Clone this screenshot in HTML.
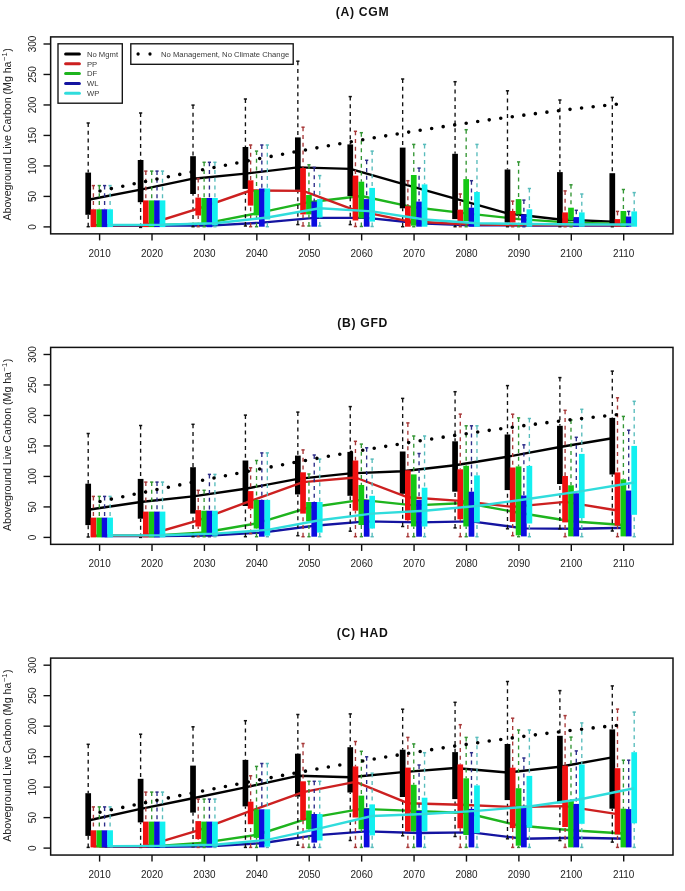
<!DOCTYPE html>
<html><head><meta charset="utf-8"><style>
html,body{margin:0;padding:0;background:#fff;}
svg{display:block;}
text{font-family:"Liberation Sans", sans-serif;filter:grayscale(1);}
</style></head><body>
<svg width="685" height="891" viewBox="0 0 685 891">
<rect x="0" y="0" width="685" height="891" fill="#fff"/>

<g transform="translate(0,0)">
<text x="362.6" y="16.1" font-size="12.2" font-weight="bold" letter-spacing="0.7" text-anchor="middle" fill="#111">(A) CGM</text>
<text transform="translate(11.1,134.4) rotate(-90)" font-size="10.6" text-anchor="middle" fill="#222">Aboveground Live Carbon (Mg ha<tspan font-size="7.6" dy="-4.6" dx="0.6">−1</tspan><tspan dy="4.6" dx="0.4">)</tspan></text>
<line x1="43.5" y1="226.9" x2="50.65" y2="226.9" stroke="#111" stroke-width="1.4"/>
<text transform="translate(36.4,226.9) rotate(-90)" font-size="10" text-anchor="middle" fill="#222">0</text>
<line x1="43.5" y1="196.42" x2="50.65" y2="196.42" stroke="#111" stroke-width="1.4"/>
<text transform="translate(36.4,196.42) rotate(-90)" font-size="10" text-anchor="middle" fill="#222">50</text>
<line x1="43.5" y1="165.93" x2="50.65" y2="165.93" stroke="#111" stroke-width="1.4"/>
<text transform="translate(36.4,165.93) rotate(-90)" font-size="10" text-anchor="middle" fill="#222">100</text>
<line x1="43.5" y1="135.44" x2="50.65" y2="135.44" stroke="#111" stroke-width="1.4"/>
<text transform="translate(36.4,135.44) rotate(-90)" font-size="10" text-anchor="middle" fill="#222">150</text>
<line x1="43.5" y1="104.96" x2="50.65" y2="104.96" stroke="#111" stroke-width="1.4"/>
<text transform="translate(36.4,104.96) rotate(-90)" font-size="10" text-anchor="middle" fill="#222">200</text>
<line x1="43.5" y1="74.47" x2="50.65" y2="74.47" stroke="#111" stroke-width="1.4"/>
<text transform="translate(36.4,74.47) rotate(-90)" font-size="10" text-anchor="middle" fill="#222">250</text>
<line x1="43.5" y1="43.99" x2="50.65" y2="43.99" stroke="#111" stroke-width="1.4"/>
<text transform="translate(36.4,43.99) rotate(-90)" font-size="10" text-anchor="middle" fill="#222">300</text>
<line x1="99.6" y1="233.85" x2="99.6" y2="240.4" stroke="#111" stroke-width="1.4"/>
<text transform="translate(99.6,256.5) scale(0.94,1)" font-size="10.6" text-anchor="middle" fill="#222">2010</text>
<line x1="152.01" y1="233.85" x2="152.01" y2="240.4" stroke="#111" stroke-width="1.4"/>
<text transform="translate(152.01,256.5) scale(0.94,1)" font-size="10.6" text-anchor="middle" fill="#222">2020</text>
<line x1="204.42" y1="233.85" x2="204.42" y2="240.4" stroke="#111" stroke-width="1.4"/>
<text transform="translate(204.42,256.5) scale(0.94,1)" font-size="10.6" text-anchor="middle" fill="#222">2030</text>
<line x1="256.83" y1="233.85" x2="256.83" y2="240.4" stroke="#111" stroke-width="1.4"/>
<text transform="translate(256.83,256.5) scale(0.94,1)" font-size="10.6" text-anchor="middle" fill="#222">2040</text>
<line x1="309.24" y1="233.85" x2="309.24" y2="240.4" stroke="#111" stroke-width="1.4"/>
<text transform="translate(309.24,256.5) scale(0.94,1)" font-size="10.6" text-anchor="middle" fill="#222">2050</text>
<line x1="361.65" y1="233.85" x2="361.65" y2="240.4" stroke="#111" stroke-width="1.4"/>
<text transform="translate(361.65,256.5) scale(0.94,1)" font-size="10.6" text-anchor="middle" fill="#222">2060</text>
<line x1="414.06" y1="233.85" x2="414.06" y2="240.4" stroke="#111" stroke-width="1.4"/>
<text transform="translate(414.06,256.5) scale(0.94,1)" font-size="10.6" text-anchor="middle" fill="#222">2070</text>
<line x1="466.47" y1="233.85" x2="466.47" y2="240.4" stroke="#111" stroke-width="1.4"/>
<text transform="translate(466.47,256.5) scale(0.94,1)" font-size="10.6" text-anchor="middle" fill="#222">2080</text>
<line x1="518.88" y1="233.85" x2="518.88" y2="240.4" stroke="#111" stroke-width="1.4"/>
<text transform="translate(518.88,256.5) scale(0.94,1)" font-size="10.6" text-anchor="middle" fill="#222">2090</text>
<line x1="571.29" y1="233.85" x2="571.29" y2="240.4" stroke="#111" stroke-width="1.4"/>
<text transform="translate(571.29,256.5) scale(0.94,1)" font-size="10.6" text-anchor="middle" fill="#222">2100</text>
<line x1="623.7" y1="233.85" x2="623.7" y2="240.4" stroke="#111" stroke-width="1.4"/>
<text transform="translate(623.7,256.5) scale(0.94,1)" font-size="10.6" text-anchor="middle" fill="#222">2110</text>
<polyline points="88.2,199.8 140.61,189.6 193.02,178.7 245.43,173.6 297.84,167.4 350.25,168.9 402.66,183.8 455.07,198.7 507.48,213.4 559.89,219.5 612.3,221.6" stroke="#000000" stroke-width="2.4" fill="none" stroke-linejoin="round"/>
<polyline points="99.3,225.3 151.71,225.2 204.12,223.6 256.53,213.4 308.94,202.2 361.35,196 413.76,207.3 466.17,213.4 518.58,219.1 570.99,222.6 623.4,224" stroke="#1eb41e" stroke-width="2.4" fill="none" stroke-linejoin="round"/>
<polyline points="104.6,225.6 157.01,225.6 209.42,225.6 261.83,222.6 314.24,217.9 366.65,217.9 419.06,223.2 471.47,225.2 523.88,225.5 576.29,225.5 628.7,225.5" stroke="#1414a0" stroke-width="2.4" fill="none" stroke-linejoin="round"/>
<path d="M88.2,123V172.6" stroke="#111111" stroke-width="1.35" stroke-dasharray="4 3.75" fill="none"/>
<path d="M86.6,123H89.8" stroke="#111111" stroke-width="1.5"/>
<path d="M88.2,226.7V214.8" stroke="#111111" stroke-width="1.35" stroke-dasharray="4 3.75" fill="none"/>
<path d="M86.6,226.7H89.8" stroke="#111111" stroke-width="1.5"/>
<rect x="85.35" y="172.6" width="5.7" height="42.2" fill="#000000"/>
<path d="M140.61,113V160" stroke="#111111" stroke-width="1.35" stroke-dasharray="4 3.75" fill="none"/>
<path d="M139.01,113H142.21" stroke="#111111" stroke-width="1.5"/>
<path d="M140.61,227.4V202.2" stroke="#111111" stroke-width="1.35" stroke-dasharray="4 3.75" fill="none"/>
<path d="M139.01,227.4H142.21" stroke="#111111" stroke-width="1.5"/>
<rect x="137.76" y="160" width="5.7" height="42.2" fill="#000000"/>
<path d="M193.02,105.1V156.2" stroke="#111111" stroke-width="1.35" stroke-dasharray="4 3.75" fill="none"/>
<path d="M191.42,105.1H194.62" stroke="#111111" stroke-width="1.5"/>
<path d="M193.02,226.7V194" stroke="#111111" stroke-width="1.35" stroke-dasharray="4 3.75" fill="none"/>
<path d="M191.42,226.7H194.62" stroke="#111111" stroke-width="1.5"/>
<rect x="190.17" y="156.2" width="5.7" height="37.8" fill="#000000"/>
<path d="M245.43,99V147" stroke="#111111" stroke-width="1.35" stroke-dasharray="4 3.75" fill="none"/>
<path d="M243.83,99H247.03" stroke="#111111" stroke-width="1.5"/>
<path d="M245.43,226V188.9" stroke="#111111" stroke-width="1.35" stroke-dasharray="4 3.75" fill="none"/>
<path d="M243.83,226H247.03" stroke="#111111" stroke-width="1.5"/>
<rect x="242.58" y="147" width="5.7" height="41.9" fill="#000000"/>
<path d="M297.84,61.2V137.4" stroke="#111111" stroke-width="1.35" stroke-dasharray="4 3.75" fill="none"/>
<path d="M296.24,61.2H299.44" stroke="#111111" stroke-width="1.5"/>
<path d="M297.84,224.6V189.9" stroke="#111111" stroke-width="1.35" stroke-dasharray="4 3.75" fill="none"/>
<path d="M296.24,224.6H299.44" stroke="#111111" stroke-width="1.5"/>
<rect x="294.99" y="137.4" width="5.7" height="52.5" fill="#000000"/>
<path d="M350.25,96.6V144.4" stroke="#111111" stroke-width="1.35" stroke-dasharray="4 3.75" fill="none"/>
<path d="M348.65,96.6H351.85" stroke="#111111" stroke-width="1.5"/>
<path d="M350.25,224.6V196" stroke="#111111" stroke-width="1.35" stroke-dasharray="4 3.75" fill="none"/>
<path d="M348.65,224.6H351.85" stroke="#111111" stroke-width="1.5"/>
<rect x="347.4" y="144.4" width="5.7" height="51.6" fill="#000000"/>
<path d="M402.66,79V147.6" stroke="#111111" stroke-width="1.35" stroke-dasharray="4 3.75" fill="none"/>
<path d="M401.06,79H404.26" stroke="#111111" stroke-width="1.5"/>
<path d="M402.66,226.7V208.3" stroke="#111111" stroke-width="1.35" stroke-dasharray="4 3.75" fill="none"/>
<path d="M401.06,226.7H404.26" stroke="#111111" stroke-width="1.5"/>
<rect x="399.81" y="147.6" width="5.7" height="60.7" fill="#000000"/>
<path d="M455.07,81.7V153.8" stroke="#111111" stroke-width="1.35" stroke-dasharray="4 3.75" fill="none"/>
<path d="M453.47,81.7H456.67" stroke="#111111" stroke-width="1.5"/>
<path d="M455.07,226.7V219.1" stroke="#111111" stroke-width="1.35" stroke-dasharray="4 3.75" fill="none"/>
<path d="M453.47,226.7H456.67" stroke="#111111" stroke-width="1.5"/>
<rect x="452.22" y="153.8" width="5.7" height="65.3" fill="#000000"/>
<path d="M507.48,90.8V169.5" stroke="#111111" stroke-width="1.35" stroke-dasharray="4 3.75" fill="none"/>
<path d="M505.88,90.8H509.08" stroke="#111111" stroke-width="1.5"/>
<path d="M507.48,226.7V222.6" stroke="#111111" stroke-width="1.35" stroke-dasharray="4 3.75" fill="none"/>
<path d="M505.88,226.7H509.08" stroke="#111111" stroke-width="1.5"/>
<rect x="504.63" y="169.5" width="5.7" height="53.1" fill="#000000"/>
<path d="M559.89,100V172.1" stroke="#111111" stroke-width="1.35" stroke-dasharray="4 3.75" fill="none"/>
<path d="M558.29,100H561.49" stroke="#111111" stroke-width="1.5"/>
<path d="M559.89,226.7V223.2" stroke="#111111" stroke-width="1.35" stroke-dasharray="4 3.75" fill="none"/>
<path d="M558.29,226.7H561.49" stroke="#111111" stroke-width="1.5"/>
<rect x="557.04" y="172.1" width="5.7" height="51.1" fill="#000000"/>
<path d="M612.3,97.4V173.2" stroke="#111111" stroke-width="1.35" stroke-dasharray="4 3.75" fill="none"/>
<path d="M610.7,97.4H613.9" stroke="#111111" stroke-width="1.5"/>
<path d="M612.3,226.7V224" stroke="#111111" stroke-width="1.35" stroke-dasharray="4 3.75" fill="none"/>
<path d="M610.7,226.7H613.9" stroke="#111111" stroke-width="1.5"/>
<rect x="609.45" y="173.2" width="5.7" height="50.8" fill="#000000"/>
<polyline points="93.4,225.2 145.81,225 198.22,208.6 250.63,190.5 303.04,190.9 355.45,210.3 407.86,221.2 460.27,224 512.68,225 565.09,225 617.5,225" stroke="#cc2020" stroke-width="2.4" fill="none" stroke-linejoin="round"/>
<path d="M93.4,185.6V209.3" stroke="#a83838" stroke-width="1.35" stroke-dasharray="4 3.75" fill="none"/>
<path d="M91.8,185.6H95" stroke="#a83838" stroke-width="1.5"/>
<rect x="90.55" y="209.3" width="5.7" height="17.8" fill="#f01010"/>
<path d="M145.81,171.1V200.4" stroke="#a83838" stroke-width="1.35" stroke-dasharray="4 3.75" fill="none"/>
<path d="M144.21,171.1H147.41" stroke="#a83838" stroke-width="1.5"/>
<rect x="142.96" y="200.4" width="5.7" height="26.7" fill="#f01010"/>
<path d="M198.22,178.5V197.6" stroke="#a83838" stroke-width="1.35" stroke-dasharray="4 3.75" fill="none"/>
<path d="M196.62,178.5H199.82" stroke="#a83838" stroke-width="1.5"/>
<path d="M198.22,226.7V215.5" stroke="#a83838" stroke-width="1.35" stroke-dasharray="4 3.75" fill="none"/>
<path d="M196.62,226.7H199.82" stroke="#a83838" stroke-width="1.5"/>
<rect x="195.37" y="197.6" width="5.7" height="17.9" fill="#f01010"/>
<path d="M250.63,145V180.3" stroke="#a83838" stroke-width="1.35" stroke-dasharray="4 3.75" fill="none"/>
<path d="M249.03,145H252.23" stroke="#a83838" stroke-width="1.5"/>
<path d="M250.63,226.7V205.6" stroke="#a83838" stroke-width="1.35" stroke-dasharray="4 3.75" fill="none"/>
<path d="M249.03,226.7H252.23" stroke="#a83838" stroke-width="1.5"/>
<rect x="247.78" y="180.3" width="5.7" height="25.3" fill="#f01010"/>
<path d="M303.04,127.2V168.1" stroke="#a83838" stroke-width="1.35" stroke-dasharray="4 3.75" fill="none"/>
<path d="M301.44,127.2H304.64" stroke="#a83838" stroke-width="1.5"/>
<path d="M303.04,226V214.4" stroke="#a83838" stroke-width="1.35" stroke-dasharray="4 3.75" fill="none"/>
<path d="M301.44,226H304.64" stroke="#a83838" stroke-width="1.5"/>
<rect x="300.19" y="168.1" width="5.7" height="46.3" fill="#f01010"/>
<path d="M355.45,131.3V175.6" stroke="#a83838" stroke-width="1.35" stroke-dasharray="4 3.75" fill="none"/>
<path d="M353.85,131.3H357.05" stroke="#a83838" stroke-width="1.5"/>
<path d="M355.45,226.5V220.5" stroke="#a83838" stroke-width="1.35" stroke-dasharray="4 3.75" fill="none"/>
<path d="M353.85,226.5H357.05" stroke="#a83838" stroke-width="1.5"/>
<rect x="352.6" y="175.6" width="5.7" height="44.9" fill="#f01010"/>
<path d="M407.86,180.7V206.2" stroke="#a83838" stroke-width="1.35" stroke-dasharray="4 3.75" fill="none"/>
<path d="M406.26,180.7H409.46" stroke="#a83838" stroke-width="1.5"/>
<rect x="405.01" y="206.2" width="5.7" height="20.5" fill="#f01010"/>
<path d="M460.27,194V209.7" stroke="#a83838" stroke-width="1.35" stroke-dasharray="4 3.75" fill="none"/>
<path d="M458.67,194H461.87" stroke="#a83838" stroke-width="1.5"/>
<path d="M460.27,226.7V221.2" stroke="#a83838" stroke-width="1.35" stroke-dasharray="4 3.75" fill="none"/>
<path d="M458.67,226.7H461.87" stroke="#a83838" stroke-width="1.5"/>
<rect x="457.42" y="209.7" width="5.7" height="11.5" fill="#f01010"/>
<path d="M512.68,201.1V211" stroke="#a83838" stroke-width="1.35" stroke-dasharray="4 3.75" fill="none"/>
<path d="M511.08,201.1H514.28" stroke="#a83838" stroke-width="1.5"/>
<path d="M512.68,226.7V222.6" stroke="#a83838" stroke-width="1.35" stroke-dasharray="4 3.75" fill="none"/>
<path d="M511.08,226.7H514.28" stroke="#a83838" stroke-width="1.5"/>
<rect x="509.83" y="211" width="5.7" height="11.6" fill="#f01010"/>
<path d="M565.09,190.9V212.4" stroke="#a83838" stroke-width="1.35" stroke-dasharray="4 3.75" fill="none"/>
<path d="M563.49,190.9H566.69" stroke="#a83838" stroke-width="1.5"/>
<path d="M565.09,226.7V223.2" stroke="#a83838" stroke-width="1.35" stroke-dasharray="4 3.75" fill="none"/>
<path d="M563.49,226.7H566.69" stroke="#a83838" stroke-width="1.5"/>
<rect x="562.24" y="212.4" width="5.7" height="10.8" fill="#f01010"/>
<path d="M617.5,211.4V219.1" stroke="#a83838" stroke-width="1.35" stroke-dasharray="4 3.75" fill="none"/>
<path d="M615.9,211.4H619.1" stroke="#a83838" stroke-width="1.5"/>
<rect x="614.65" y="219.1" width="5.7" height="7.6" fill="#f01010"/>
<path d="M99.3,185.6V209.3" stroke="#349634" stroke-width="1.35" stroke-dasharray="4 3.75" fill="none"/>
<path d="M97.7,185.6H100.9" stroke="#349634" stroke-width="1.5"/>
<rect x="96.45" y="209.3" width="5.7" height="17.8" fill="#14c814"/>
<path d="M151.71,171.1V200.4" stroke="#349634" stroke-width="1.35" stroke-dasharray="4 3.75" fill="none"/>
<path d="M150.11,171.1H153.31" stroke="#349634" stroke-width="1.5"/>
<rect x="148.86" y="200.4" width="5.7" height="26.7" fill="#14c814"/>
<path d="M204.12,162.3V198" stroke="#349634" stroke-width="1.35" stroke-dasharray="4 3.75" fill="none"/>
<path d="M202.52,162.3H205.72" stroke="#349634" stroke-width="1.5"/>
<path d="M204.12,226.7V224.8" stroke="#349634" stroke-width="1.35" stroke-dasharray="4 3.75" fill="none"/>
<path d="M202.52,226.7H205.72" stroke="#349634" stroke-width="1.5"/>
<rect x="201.27" y="198" width="5.7" height="26.8" fill="#14c814"/>
<path d="M256.53,151.1V189.9" stroke="#349634" stroke-width="1.35" stroke-dasharray="4 3.75" fill="none"/>
<path d="M254.93,151.1H258.13" stroke="#349634" stroke-width="1.5"/>
<path d="M256.53,226.7V215.4" stroke="#349634" stroke-width="1.35" stroke-dasharray="4 3.75" fill="none"/>
<path d="M254.93,226.7H258.13" stroke="#349634" stroke-width="1.5"/>
<rect x="253.68" y="189.9" width="5.7" height="25.5" fill="#14c814"/>
<path d="M308.94,164.8V195" stroke="#349634" stroke-width="1.35" stroke-dasharray="4 3.75" fill="none"/>
<path d="M307.34,164.8H310.54" stroke="#349634" stroke-width="1.5"/>
<path d="M308.94,226V214.4" stroke="#349634" stroke-width="1.35" stroke-dasharray="4 3.75" fill="none"/>
<path d="M307.34,226H310.54" stroke="#349634" stroke-width="1.5"/>
<rect x="306.09" y="195" width="5.7" height="19.4" fill="#14c814"/>
<path d="M361.35,132.7V181.7" stroke="#349634" stroke-width="1.35" stroke-dasharray="4 3.75" fill="none"/>
<path d="M359.75,132.7H362.95" stroke="#349634" stroke-width="1.5"/>
<path d="M361.35,226.5V218.5" stroke="#349634" stroke-width="1.35" stroke-dasharray="4 3.75" fill="none"/>
<path d="M359.75,226.5H362.95" stroke="#349634" stroke-width="1.5"/>
<rect x="358.5" y="181.7" width="5.7" height="36.8" fill="#14c814"/>
<path d="M413.76,144.4V175" stroke="#349634" stroke-width="1.35" stroke-dasharray="4 3.75" fill="none"/>
<path d="M412.16,144.4H415.36" stroke="#349634" stroke-width="1.5"/>
<path d="M413.76,226.7V225.7" stroke="#349634" stroke-width="1.35" stroke-dasharray="4 3.75" fill="none"/>
<path d="M412.16,226.7H415.36" stroke="#349634" stroke-width="1.5"/>
<rect x="410.91" y="175" width="5.7" height="50.7" fill="#14c814"/>
<path d="M466.17,129.7V179.1" stroke="#349634" stroke-width="1.35" stroke-dasharray="4 3.75" fill="none"/>
<path d="M464.57,129.7H467.77" stroke="#349634" stroke-width="1.5"/>
<path d="M466.17,226.7V221.2" stroke="#349634" stroke-width="1.35" stroke-dasharray="4 3.75" fill="none"/>
<path d="M464.57,226.7H467.77" stroke="#349634" stroke-width="1.5"/>
<rect x="463.32" y="179.1" width="5.7" height="42.1" fill="#14c814"/>
<path d="M518.58,161.9V199.1" stroke="#349634" stroke-width="1.35" stroke-dasharray="4 3.75" fill="none"/>
<path d="M516.98,161.9H520.18" stroke="#349634" stroke-width="1.5"/>
<path d="M518.58,226.7V214.4" stroke="#349634" stroke-width="1.35" stroke-dasharray="4 3.75" fill="none"/>
<path d="M516.98,226.7H520.18" stroke="#349634" stroke-width="1.5"/>
<rect x="515.73" y="199.1" width="5.7" height="15.3" fill="#14c814"/>
<path d="M570.99,184.8V207.7" stroke="#349634" stroke-width="1.35" stroke-dasharray="4 3.75" fill="none"/>
<path d="M569.39,184.8H572.59" stroke="#349634" stroke-width="1.5"/>
<path d="M570.99,226.7V220.5" stroke="#349634" stroke-width="1.35" stroke-dasharray="4 3.75" fill="none"/>
<path d="M569.39,226.7H572.59" stroke="#349634" stroke-width="1.5"/>
<rect x="568.14" y="207.7" width="5.7" height="12.8" fill="#14c814"/>
<path d="M623.4,189.5V211" stroke="#349634" stroke-width="1.35" stroke-dasharray="4 3.75" fill="none"/>
<path d="M621.8,189.5H625" stroke="#349634" stroke-width="1.5"/>
<rect x="620.55" y="211" width="5.7" height="15.7" fill="#14c814"/>
<path d="M104.6,185.6V209.3" stroke="#2c2c88" stroke-width="1.35" stroke-dasharray="4 3.75" fill="none"/>
<path d="M103,185.6H106.2" stroke="#2c2c88" stroke-width="1.5"/>
<rect x="101.75" y="209.3" width="5.7" height="17.8" fill="#0c0ce0"/>
<path d="M157.01,171.1V200.4" stroke="#2c2c88" stroke-width="1.35" stroke-dasharray="4 3.75" fill="none"/>
<path d="M155.41,171.1H158.61" stroke="#2c2c88" stroke-width="1.5"/>
<rect x="154.16" y="200.4" width="5.7" height="26.7" fill="#0c0ce0"/>
<path d="M209.42,162.3V198" stroke="#2c2c88" stroke-width="1.35" stroke-dasharray="4 3.75" fill="none"/>
<path d="M207.82,162.3H211.02" stroke="#2c2c88" stroke-width="1.5"/>
<rect x="206.57" y="198" width="5.7" height="29.2" fill="#0c0ce0"/>
<path d="M261.83,145V188.5" stroke="#2c2c88" stroke-width="1.35" stroke-dasharray="4 3.75" fill="none"/>
<path d="M260.23,145H263.43" stroke="#2c2c88" stroke-width="1.5"/>
<rect x="258.98" y="188.5" width="5.7" height="38.2" fill="#0c0ce0"/>
<path d="M314.24,167.4V201.6" stroke="#2c2c88" stroke-width="1.35" stroke-dasharray="4 3.75" fill="none"/>
<path d="M312.64,167.4H315.84" stroke="#2c2c88" stroke-width="1.5"/>
<rect x="311.39" y="201.6" width="5.7" height="25.1" fill="#0c0ce0"/>
<path d="M366.65,160.3V199.1" stroke="#2c2c88" stroke-width="1.35" stroke-dasharray="4 3.75" fill="none"/>
<path d="M365.05,160.3H368.25" stroke="#2c2c88" stroke-width="1.5"/>
<rect x="363.8" y="199.1" width="5.7" height="27.6" fill="#0c0ce0"/>
<path d="M419.06,168.1V201.6" stroke="#2c2c88" stroke-width="1.35" stroke-dasharray="4 3.75" fill="none"/>
<path d="M417.46,168.1H420.66" stroke="#2c2c88" stroke-width="1.5"/>
<rect x="416.21" y="201.6" width="5.7" height="25.1" fill="#0c0ce0"/>
<path d="M471.47,180.7V207.7" stroke="#2c2c88" stroke-width="1.35" stroke-dasharray="4 3.75" fill="none"/>
<path d="M469.87,180.7H473.07" stroke="#2c2c88" stroke-width="1.5"/>
<rect x="468.62" y="207.7" width="5.7" height="19" fill="#0c0ce0"/>
<path d="M523.88,200.1V214.4" stroke="#2c2c88" stroke-width="1.35" stroke-dasharray="4 3.75" fill="none"/>
<path d="M522.28,200.1H525.48" stroke="#2c2c88" stroke-width="1.5"/>
<path d="M523.88,226.7V223.2" stroke="#2c2c88" stroke-width="1.35" stroke-dasharray="4 3.75" fill="none"/>
<path d="M522.28,226.7H525.48" stroke="#2c2c88" stroke-width="1.5"/>
<rect x="521.03" y="214.4" width="5.7" height="8.8" fill="#0c0ce0"/>
<path d="M576.29,210.3V217.1" stroke="#2c2c88" stroke-width="1.35" stroke-dasharray="4 3.75" fill="none"/>
<path d="M574.69,210.3H577.89" stroke="#2c2c88" stroke-width="1.5"/>
<rect x="573.44" y="217.1" width="5.7" height="9.6" fill="#0c0ce0"/>
<path d="M628.7,211.4V216.5" stroke="#2c2c88" stroke-width="1.35" stroke-dasharray="4 3.75" fill="none"/>
<path d="M627.1,211.4H630.3" stroke="#2c2c88" stroke-width="1.5"/>
<rect x="625.85" y="216.5" width="5.7" height="10.2" fill="#0c0ce0"/>
<path d="M110.1,185.6V209.3" stroke="#58bcbc" stroke-width="1.35" stroke-dasharray="4 3.75" fill="none"/>
<path d="M108.5,185.6H111.7" stroke="#58bcbc" stroke-width="1.5"/>
<rect x="107.25" y="209.3" width="5.7" height="17.8" fill="#12f0f0"/>
<path d="M162.51,171.1V200.4" stroke="#58bcbc" stroke-width="1.35" stroke-dasharray="4 3.75" fill="none"/>
<path d="M160.91,171.1H164.11" stroke="#58bcbc" stroke-width="1.5"/>
<rect x="159.66" y="200.4" width="5.7" height="26.7" fill="#12f0f0"/>
<path d="M214.92,162.3V198" stroke="#58bcbc" stroke-width="1.35" stroke-dasharray="4 3.75" fill="none"/>
<path d="M213.32,162.3H216.52" stroke="#58bcbc" stroke-width="1.5"/>
<path d="M214.92,226.7V225.4" stroke="#58bcbc" stroke-width="1.35" stroke-dasharray="4 3.75" fill="none"/>
<path d="M213.32,226.7H216.52" stroke="#58bcbc" stroke-width="1.5"/>
<rect x="212.07" y="198" width="5.7" height="27.4" fill="#12f0f0"/>
<path d="M267.33,145V188.5" stroke="#58bcbc" stroke-width="1.35" stroke-dasharray="4 3.75" fill="none"/>
<path d="M265.73,145H268.93" stroke="#58bcbc" stroke-width="1.5"/>
<path d="M267.33,226.7V219.5" stroke="#58bcbc" stroke-width="1.35" stroke-dasharray="4 3.75" fill="none"/>
<path d="M265.73,226.7H268.93" stroke="#58bcbc" stroke-width="1.5"/>
<rect x="264.48" y="188.5" width="5.7" height="31" fill="#12f0f0"/>
<path d="M319.74,175.6V199.1" stroke="#58bcbc" stroke-width="1.35" stroke-dasharray="4 3.75" fill="none"/>
<path d="M318.14,175.6H321.34" stroke="#58bcbc" stroke-width="1.5"/>
<path d="M319.74,226V217.5" stroke="#58bcbc" stroke-width="1.35" stroke-dasharray="4 3.75" fill="none"/>
<path d="M318.14,226H321.34" stroke="#58bcbc" stroke-width="1.5"/>
<rect x="316.89" y="199.1" width="5.7" height="18.4" fill="#12f0f0"/>
<path d="M372.15,151.1V187.9" stroke="#58bcbc" stroke-width="1.35" stroke-dasharray="4 3.75" fill="none"/>
<path d="M370.55,151.1H373.75" stroke="#58bcbc" stroke-width="1.5"/>
<path d="M372.15,226.5V221.6" stroke="#58bcbc" stroke-width="1.35" stroke-dasharray="4 3.75" fill="none"/>
<path d="M370.55,226.5H373.75" stroke="#58bcbc" stroke-width="1.5"/>
<rect x="369.3" y="187.9" width="5.7" height="33.7" fill="#12f0f0"/>
<path d="M424.56,144.4V184.4" stroke="#58bcbc" stroke-width="1.35" stroke-dasharray="4 3.75" fill="none"/>
<path d="M422.96,144.4H426.16" stroke="#58bcbc" stroke-width="1.5"/>
<rect x="421.71" y="184.4" width="5.7" height="42.3" fill="#12f0f0"/>
<path d="M476.97,144.4V192" stroke="#58bcbc" stroke-width="1.35" stroke-dasharray="4 3.75" fill="none"/>
<path d="M475.37,144.4H478.57" stroke="#58bcbc" stroke-width="1.5"/>
<rect x="474.12" y="192" width="5.7" height="34.7" fill="#12f0f0"/>
<path d="M529.38,188.5V209.3" stroke="#58bcbc" stroke-width="1.35" stroke-dasharray="4 3.75" fill="none"/>
<path d="M527.78,188.5H530.98" stroke="#58bcbc" stroke-width="1.5"/>
<rect x="526.53" y="209.3" width="5.7" height="17.4" fill="#12f0f0"/>
<path d="M581.79,194V212.4" stroke="#58bcbc" stroke-width="1.35" stroke-dasharray="4 3.75" fill="none"/>
<path d="M580.19,194H583.39" stroke="#58bcbc" stroke-width="1.5"/>
<rect x="578.94" y="212.4" width="5.7" height="14.3" fill="#12f0f0"/>
<path d="M634.2,192.6V211.4" stroke="#58bcbc" stroke-width="1.35" stroke-dasharray="4 3.75" fill="none"/>
<path d="M632.6,192.6H635.8" stroke="#58bcbc" stroke-width="1.5"/>
<rect x="631.35" y="211.4" width="5.7" height="15.3" fill="#12f0f0"/>
<polyline points="110.1,224.9 162.51,224.7 214.92,223.2 267.33,217.5 319.74,208.3 372.15,211.4 424.56,219.5 476.97,223.2 529.38,224 581.79,224.5 634.2,224.5" stroke="#30dcdc" stroke-width="2.4" fill="none" stroke-linejoin="round"/>
<path d="M100.00,191.03 L106.63,189.62 L113.26,188.21 L119.89,186.81 L126.52,185.42 L133.15,184.02 L139.77,182.64 L146.40,181.26 L153.03,179.88 L159.66,178.51 L166.29,177.14 L172.92,175.78 L179.55,174.43 L186.18,173.08 L192.81,171.74 L199.44,170.40 L206.07,169.07 L212.69,167.75 L219.32,166.43 L225.95,165.12 L232.58,163.82 L239.21,162.52 L245.84,161.23 L252.47,159.94 L259.10,158.67 L265.73,157.40 L272.36,156.14 L278.99,154.89 L285.62,153.64 L292.24,152.40 L298.87,151.17 L305.50,149.95 L312.13,148.74 L318.76,147.53 L325.39,146.34 L332.02,145.15 L338.65,143.97 L345.28,142.80 L351.91,141.64 L358.54,140.49 L365.16,139.35 L371.79,138.21 L378.42,137.09 L385.05,135.98 L391.68,134.87 L398.31,133.78 L404.94,132.70 L411.57,131.62 L418.20,130.56 L424.83,129.51 L431.46,128.47 L438.08,127.44 L444.71,126.42 L451.34,125.41 L457.97,124.41 L464.60,123.42 L471.23,122.45 L477.86,121.48 L484.49,120.53 L491.12,119.59 L497.75,118.66 L504.38,117.75 L511.01,116.85 L517.63,115.95 L524.26,115.08 L530.89,114.21 L537.52,113.36 L544.15,112.52 L550.78,111.69 L557.41,110.87 L564.04,110.07 L570.67,109.28 L577.30,108.51 L583.93,107.75 L590.55,107.00 L597.18,106.27 L603.81,105.55 L610.44,104.85 L617.07,104.16 L623.70,103.48" stroke="#000" stroke-width="3.6" stroke-dasharray="0 11.64" stroke-linecap="round" fill="none"/>
<rect x="50.65" y="36.9" width="622.35" height="196.95" fill="none" stroke="#111" stroke-width="1.5"/>
<rect x="58" y="43.8" width="64.3" height="59.4" fill="#fff" stroke="#111" stroke-width="1.35"/>
<line x1="65.6" y1="54.1" x2="79.4" y2="54.1" stroke="#000000" stroke-width="3" stroke-linecap="round"/>
<text x="86.9" y="56.9" font-size="7.7" fill="#3a3a3a">No Mgmt</text>
<line x1="65.6" y1="63.8" x2="79.4" y2="63.8" stroke="#cc2020" stroke-width="3" stroke-linecap="round"/>
<text x="86.9" y="66.6" font-size="7.7" fill="#3a3a3a">PP</text>
<line x1="65.6" y1="73.6" x2="79.4" y2="73.6" stroke="#1eb41e" stroke-width="3" stroke-linecap="round"/>
<text x="86.9" y="76.4" font-size="7.7" fill="#3a3a3a">DF</text>
<line x1="65.6" y1="83.4" x2="79.4" y2="83.4" stroke="#1414a0" stroke-width="3" stroke-linecap="round"/>
<text x="86.9" y="86.2" font-size="7.7" fill="#3a3a3a">WL</text>
<line x1="65.6" y1="93.2" x2="79.4" y2="93.2" stroke="#30dcdc" stroke-width="3" stroke-linecap="round"/>
<text x="86.9" y="96" font-size="7.7" fill="#3a3a3a">WP</text>
<rect x="130.8" y="43.8" width="162.4" height="20.5" fill="#fff" stroke="#111" stroke-width="1.35"/>
<circle cx="138.1" cy="54" r="1.65" fill="#000"/><circle cx="150" cy="54" r="1.65" fill="#000"/>
<text x="161" y="56.8" font-size="7.7" fill="#3a3a3a">No Management, No Climate Change</text>
</g>
<g transform="translate(0,310.5)">
<text x="362.6" y="16.1" font-size="12.2" font-weight="bold" letter-spacing="0.7" text-anchor="middle" fill="#111">(B) GFD</text>
<text transform="translate(11.1,134.4) rotate(-90)" font-size="10.6" text-anchor="middle" fill="#222">Aboveground Live Carbon (Mg ha<tspan font-size="7.6" dy="-4.6" dx="0.6">−1</tspan><tspan dy="4.6" dx="0.4">)</tspan></text>
<line x1="43.5" y1="226.9" x2="50.65" y2="226.9" stroke="#111" stroke-width="1.4"/>
<text transform="translate(36.4,226.9) rotate(-90)" font-size="10" text-anchor="middle" fill="#222">0</text>
<line x1="43.5" y1="196.42" x2="50.65" y2="196.42" stroke="#111" stroke-width="1.4"/>
<text transform="translate(36.4,196.42) rotate(-90)" font-size="10" text-anchor="middle" fill="#222">50</text>
<line x1="43.5" y1="165.93" x2="50.65" y2="165.93" stroke="#111" stroke-width="1.4"/>
<text transform="translate(36.4,165.93) rotate(-90)" font-size="10" text-anchor="middle" fill="#222">100</text>
<line x1="43.5" y1="135.44" x2="50.65" y2="135.44" stroke="#111" stroke-width="1.4"/>
<text transform="translate(36.4,135.44) rotate(-90)" font-size="10" text-anchor="middle" fill="#222">150</text>
<line x1="43.5" y1="104.96" x2="50.65" y2="104.96" stroke="#111" stroke-width="1.4"/>
<text transform="translate(36.4,104.96) rotate(-90)" font-size="10" text-anchor="middle" fill="#222">200</text>
<line x1="43.5" y1="74.47" x2="50.65" y2="74.47" stroke="#111" stroke-width="1.4"/>
<text transform="translate(36.4,74.47) rotate(-90)" font-size="10" text-anchor="middle" fill="#222">250</text>
<line x1="43.5" y1="43.99" x2="50.65" y2="43.99" stroke="#111" stroke-width="1.4"/>
<text transform="translate(36.4,43.99) rotate(-90)" font-size="10" text-anchor="middle" fill="#222">300</text>
<line x1="99.6" y1="233.85" x2="99.6" y2="240.4" stroke="#111" stroke-width="1.4"/>
<text transform="translate(99.6,256.5) scale(0.94,1)" font-size="10.6" text-anchor="middle" fill="#222">2010</text>
<line x1="152.01" y1="233.85" x2="152.01" y2="240.4" stroke="#111" stroke-width="1.4"/>
<text transform="translate(152.01,256.5) scale(0.94,1)" font-size="10.6" text-anchor="middle" fill="#222">2020</text>
<line x1="204.42" y1="233.85" x2="204.42" y2="240.4" stroke="#111" stroke-width="1.4"/>
<text transform="translate(204.42,256.5) scale(0.94,1)" font-size="10.6" text-anchor="middle" fill="#222">2030</text>
<line x1="256.83" y1="233.85" x2="256.83" y2="240.4" stroke="#111" stroke-width="1.4"/>
<text transform="translate(256.83,256.5) scale(0.94,1)" font-size="10.6" text-anchor="middle" fill="#222">2040</text>
<line x1="309.24" y1="233.85" x2="309.24" y2="240.4" stroke="#111" stroke-width="1.4"/>
<text transform="translate(309.24,256.5) scale(0.94,1)" font-size="10.6" text-anchor="middle" fill="#222">2050</text>
<line x1="361.65" y1="233.85" x2="361.65" y2="240.4" stroke="#111" stroke-width="1.4"/>
<text transform="translate(361.65,256.5) scale(0.94,1)" font-size="10.6" text-anchor="middle" fill="#222">2060</text>
<line x1="414.06" y1="233.85" x2="414.06" y2="240.4" stroke="#111" stroke-width="1.4"/>
<text transform="translate(414.06,256.5) scale(0.94,1)" font-size="10.6" text-anchor="middle" fill="#222">2070</text>
<line x1="466.47" y1="233.85" x2="466.47" y2="240.4" stroke="#111" stroke-width="1.4"/>
<text transform="translate(466.47,256.5) scale(0.94,1)" font-size="10.6" text-anchor="middle" fill="#222">2080</text>
<line x1="518.88" y1="233.85" x2="518.88" y2="240.4" stroke="#111" stroke-width="1.4"/>
<text transform="translate(518.88,256.5) scale(0.94,1)" font-size="10.6" text-anchor="middle" fill="#222">2090</text>
<line x1="571.29" y1="233.85" x2="571.29" y2="240.4" stroke="#111" stroke-width="1.4"/>
<text transform="translate(571.29,256.5) scale(0.94,1)" font-size="10.6" text-anchor="middle" fill="#222">2100</text>
<line x1="623.7" y1="233.85" x2="623.7" y2="240.4" stroke="#111" stroke-width="1.4"/>
<text transform="translate(623.7,256.5) scale(0.94,1)" font-size="10.6" text-anchor="middle" fill="#222">2110</text>
<polyline points="88.2,199.3 140.61,191.5 193.02,185.9 245.43,178.2 297.84,168.4 350.25,162.9 402.66,160.8 455.07,154.7 507.48,146.2 559.89,136.5 612.3,127.8" stroke="#000000" stroke-width="2.4" fill="none" stroke-linejoin="round"/>
<polyline points="99.3,225.3 151.71,225.2 204.12,222 256.53,212.9 308.94,197 361.35,189.4 413.76,194.9 466.17,192.5 518.58,202.2 570.99,210.8 623.4,214.5" stroke="#1eb41e" stroke-width="2.4" fill="none" stroke-linejoin="round"/>
<polyline points="104.6,225.6 157.01,225.6 209.42,225 261.83,222.1 314.24,215.3 366.65,210.9 419.06,211.9 471.47,210.9 523.88,217.9 576.29,218.3 628.7,217.3" stroke="#1414a0" stroke-width="2.4" fill="none" stroke-linejoin="round"/>
<path d="M88.2,123V173.2" stroke="#111111" stroke-width="1.35" stroke-dasharray="4 3.75" fill="none"/>
<path d="M86.6,123H89.8" stroke="#111111" stroke-width="1.5"/>
<path d="M88.2,226.5V214.6" stroke="#111111" stroke-width="1.35" stroke-dasharray="4 3.75" fill="none"/>
<path d="M86.6,226.5H89.8" stroke="#111111" stroke-width="1.5"/>
<rect x="85.35" y="173.2" width="5.7" height="41.4" fill="#000000"/>
<path d="M140.61,115V168.4" stroke="#111111" stroke-width="1.35" stroke-dasharray="4 3.75" fill="none"/>
<path d="M139.01,115H142.21" stroke="#111111" stroke-width="1.5"/>
<path d="M140.61,226.9V208.2" stroke="#111111" stroke-width="1.35" stroke-dasharray="4 3.75" fill="none"/>
<path d="M139.01,226.9H142.21" stroke="#111111" stroke-width="1.5"/>
<rect x="137.76" y="168.4" width="5.7" height="39.8" fill="#000000"/>
<path d="M193.02,113.8V156.7" stroke="#111111" stroke-width="1.35" stroke-dasharray="4 3.75" fill="none"/>
<path d="M191.42,113.8H194.62" stroke="#111111" stroke-width="1.5"/>
<path d="M193.02,226.2V203.1" stroke="#111111" stroke-width="1.35" stroke-dasharray="4 3.75" fill="none"/>
<path d="M191.42,226.2H194.62" stroke="#111111" stroke-width="1.5"/>
<rect x="190.17" y="156.7" width="5.7" height="46.4" fill="#000000"/>
<path d="M245.43,104.6V150" stroke="#111111" stroke-width="1.35" stroke-dasharray="4 3.75" fill="none"/>
<path d="M243.83,104.6H247.03" stroke="#111111" stroke-width="1.5"/>
<path d="M245.43,226.2V195.5" stroke="#111111" stroke-width="1.35" stroke-dasharray="4 3.75" fill="none"/>
<path d="M243.83,226.2H247.03" stroke="#111111" stroke-width="1.5"/>
<rect x="242.58" y="150" width="5.7" height="45.5" fill="#000000"/>
<path d="M297.84,101.6V145.1" stroke="#111111" stroke-width="1.35" stroke-dasharray="4 3.75" fill="none"/>
<path d="M296.24,101.6H299.44" stroke="#111111" stroke-width="1.5"/>
<path d="M297.84,225.2V183.9" stroke="#111111" stroke-width="1.35" stroke-dasharray="4 3.75" fill="none"/>
<path d="M296.24,225.2H299.44" stroke="#111111" stroke-width="1.5"/>
<rect x="294.99" y="145.1" width="5.7" height="38.8" fill="#000000"/>
<path d="M350.25,96.1V141.4" stroke="#111111" stroke-width="1.35" stroke-dasharray="4 3.75" fill="none"/>
<path d="M348.65,96.1H351.85" stroke="#111111" stroke-width="1.5"/>
<path d="M350.25,220.7V185.3" stroke="#111111" stroke-width="1.35" stroke-dasharray="4 3.75" fill="none"/>
<path d="M348.65,220.7H351.85" stroke="#111111" stroke-width="1.5"/>
<rect x="347.4" y="141.4" width="5.7" height="43.9" fill="#000000"/>
<path d="M402.66,87.9V141" stroke="#111111" stroke-width="1.35" stroke-dasharray="4 3.75" fill="none"/>
<path d="M401.06,87.9H404.26" stroke="#111111" stroke-width="1.5"/>
<path d="M402.66,216V183.3" stroke="#111111" stroke-width="1.35" stroke-dasharray="4 3.75" fill="none"/>
<path d="M401.06,216H404.26" stroke="#111111" stroke-width="1.5"/>
<rect x="399.81" y="141" width="5.7" height="42.3" fill="#000000"/>
<path d="M455.07,81.2V130.8" stroke="#111111" stroke-width="1.35" stroke-dasharray="4 3.75" fill="none"/>
<path d="M453.47,81.2H456.67" stroke="#111111" stroke-width="1.5"/>
<path d="M455.07,217.4V181.2" stroke="#111111" stroke-width="1.35" stroke-dasharray="4 3.75" fill="none"/>
<path d="M453.47,217.4H456.67" stroke="#111111" stroke-width="1.5"/>
<rect x="452.22" y="130.8" width="5.7" height="50.4" fill="#000000"/>
<path d="M507.48,75.1V124" stroke="#111111" stroke-width="1.35" stroke-dasharray="4 3.75" fill="none"/>
<path d="M505.88,75.1H509.08" stroke="#111111" stroke-width="1.5"/>
<path d="M507.48,218.3V179.6" stroke="#111111" stroke-width="1.35" stroke-dasharray="4 3.75" fill="none"/>
<path d="M505.88,218.3H509.08" stroke="#111111" stroke-width="1.5"/>
<rect x="504.63" y="124" width="5.7" height="55.6" fill="#000000"/>
<path d="M559.89,67.1V115.3" stroke="#111111" stroke-width="1.35" stroke-dasharray="4 3.75" fill="none"/>
<path d="M558.29,67.1H561.49" stroke="#111111" stroke-width="1.5"/>
<path d="M559.89,218.3V173.5" stroke="#111111" stroke-width="1.35" stroke-dasharray="4 3.75" fill="none"/>
<path d="M558.29,218.3H561.49" stroke="#111111" stroke-width="1.5"/>
<rect x="557.04" y="115.3" width="5.7" height="58.2" fill="#000000"/>
<path d="M612.3,60.6V107.4" stroke="#111111" stroke-width="1.35" stroke-dasharray="4 3.75" fill="none"/>
<path d="M610.7,60.6H613.9" stroke="#111111" stroke-width="1.5"/>
<path d="M612.3,220.5V164" stroke="#111111" stroke-width="1.35" stroke-dasharray="4 3.75" fill="none"/>
<path d="M610.7,220.5H613.9" stroke="#111111" stroke-width="1.5"/>
<rect x="609.45" y="107.4" width="5.7" height="56.6" fill="#000000"/>
<polyline points="93.4,225.2 145.81,225 198.22,209.8 250.63,190.4 303.04,171.6 355.45,167 407.86,186.8 460.27,190.4 512.68,196.4 565.09,191.4 617.5,200" stroke="#cc2020" stroke-width="2.4" fill="none" stroke-linejoin="round"/>
<path d="M93.4,185.9V207.1" stroke="#a83838" stroke-width="1.35" stroke-dasharray="4 3.75" fill="none"/>
<path d="M91.8,185.9H95" stroke="#a83838" stroke-width="1.5"/>
<rect x="90.55" y="207.1" width="5.7" height="19.8" fill="#f01010"/>
<path d="M145.81,171.6V201.1" stroke="#a83838" stroke-width="1.35" stroke-dasharray="4 3.75" fill="none"/>
<path d="M144.21,171.6H147.41" stroke="#a83838" stroke-width="1.5"/>
<rect x="142.96" y="201.1" width="5.7" height="25.8" fill="#f01010"/>
<path d="M198.22,179.8V199.6" stroke="#a83838" stroke-width="1.35" stroke-dasharray="4 3.75" fill="none"/>
<path d="M196.62,179.8H199.82" stroke="#a83838" stroke-width="1.5"/>
<path d="M198.22,226.2V216" stroke="#a83838" stroke-width="1.35" stroke-dasharray="4 3.75" fill="none"/>
<path d="M196.62,226.2H199.82" stroke="#a83838" stroke-width="1.5"/>
<rect x="195.37" y="199.6" width="5.7" height="16.4" fill="#f01010"/>
<path d="M250.63,157.3V180.6" stroke="#a83838" stroke-width="1.35" stroke-dasharray="4 3.75" fill="none"/>
<path d="M249.03,157.3H252.23" stroke="#a83838" stroke-width="1.5"/>
<path d="M250.63,223.1V198.2" stroke="#a83838" stroke-width="1.35" stroke-dasharray="4 3.75" fill="none"/>
<path d="M249.03,223.1H252.23" stroke="#a83838" stroke-width="1.5"/>
<rect x="247.78" y="180.6" width="5.7" height="17.6" fill="#f01010"/>
<path d="M303.04,139.4V161.8" stroke="#a83838" stroke-width="1.35" stroke-dasharray="4 3.75" fill="none"/>
<path d="M301.44,139.4H304.64" stroke="#a83838" stroke-width="1.5"/>
<path d="M303.04,226.2V203.1" stroke="#a83838" stroke-width="1.35" stroke-dasharray="4 3.75" fill="none"/>
<path d="M301.44,226.2H304.64" stroke="#a83838" stroke-width="1.5"/>
<rect x="300.19" y="161.8" width="5.7" height="41.3" fill="#f01010"/>
<path d="M355.45,130.8V150" stroke="#a83838" stroke-width="1.35" stroke-dasharray="4 3.75" fill="none"/>
<path d="M353.85,130.8H357.05" stroke="#a83838" stroke-width="1.5"/>
<path d="M355.45,226.2V200.2" stroke="#a83838" stroke-width="1.35" stroke-dasharray="4 3.75" fill="none"/>
<path d="M353.85,226.2H357.05" stroke="#a83838" stroke-width="1.5"/>
<rect x="352.6" y="150" width="5.7" height="50.2" fill="#f01010"/>
<path d="M407.86,112.4V159.8" stroke="#a83838" stroke-width="1.35" stroke-dasharray="4 3.75" fill="none"/>
<path d="M406.26,112.4H409.46" stroke="#a83838" stroke-width="1.5"/>
<path d="M407.86,226.2V209.8" stroke="#a83838" stroke-width="1.35" stroke-dasharray="4 3.75" fill="none"/>
<path d="M406.26,226.2H409.46" stroke="#a83838" stroke-width="1.5"/>
<rect x="405.01" y="159.8" width="5.7" height="50" fill="#f01010"/>
<path d="M460.27,103.6V158.8" stroke="#a83838" stroke-width="1.35" stroke-dasharray="4 3.75" fill="none"/>
<path d="M458.67,103.6H461.87" stroke="#a83838" stroke-width="1.5"/>
<path d="M460.27,226.2V208.8" stroke="#a83838" stroke-width="1.35" stroke-dasharray="4 3.75" fill="none"/>
<path d="M458.67,226.2H461.87" stroke="#a83838" stroke-width="1.5"/>
<rect x="457.42" y="158.8" width="5.7" height="50" fill="#f01010"/>
<path d="M512.68,103.7V157" stroke="#a83838" stroke-width="1.35" stroke-dasharray="4 3.75" fill="none"/>
<path d="M511.08,103.7H514.28" stroke="#a83838" stroke-width="1.5"/>
<path d="M512.68,225.2V211.4" stroke="#a83838" stroke-width="1.35" stroke-dasharray="4 3.75" fill="none"/>
<path d="M511.08,225.2H514.28" stroke="#a83838" stroke-width="1.5"/>
<rect x="509.83" y="157" width="5.7" height="54.4" fill="#f01010"/>
<path d="M565.09,99.8V165.5" stroke="#a83838" stroke-width="1.35" stroke-dasharray="4 3.75" fill="none"/>
<path d="M563.49,99.8H566.69" stroke="#a83838" stroke-width="1.5"/>
<path d="M565.09,226.2V211.9" stroke="#a83838" stroke-width="1.35" stroke-dasharray="4 3.75" fill="none"/>
<path d="M563.49,226.2H566.69" stroke="#a83838" stroke-width="1.5"/>
<rect x="562.24" y="165.5" width="5.7" height="46.4" fill="#f01010"/>
<path d="M617.5,87.3V161.9" stroke="#a83838" stroke-width="1.35" stroke-dasharray="4 3.75" fill="none"/>
<path d="M615.9,87.3H619.1" stroke="#a83838" stroke-width="1.5"/>
<path d="M617.5,226.2V215.1" stroke="#a83838" stroke-width="1.35" stroke-dasharray="4 3.75" fill="none"/>
<path d="M615.9,226.2H619.1" stroke="#a83838" stroke-width="1.5"/>
<rect x="614.65" y="161.9" width="5.7" height="53.2" fill="#f01010"/>
<path d="M99.3,185.9V207.1" stroke="#349634" stroke-width="1.35" stroke-dasharray="4 3.75" fill="none"/>
<path d="M97.7,185.9H100.9" stroke="#349634" stroke-width="1.5"/>
<rect x="96.45" y="207.1" width="5.7" height="19.8" fill="#14c814"/>
<path d="M151.71,171.6V201.1" stroke="#349634" stroke-width="1.35" stroke-dasharray="4 3.75" fill="none"/>
<path d="M150.11,171.6H153.31" stroke="#349634" stroke-width="1.5"/>
<rect x="148.86" y="201.1" width="5.7" height="25.8" fill="#14c814"/>
<path d="M204.12,179.8V200.2" stroke="#349634" stroke-width="1.35" stroke-dasharray="4 3.75" fill="none"/>
<path d="M202.52,179.8H205.72" stroke="#349634" stroke-width="1.5"/>
<path d="M204.12,226.2V224.1" stroke="#349634" stroke-width="1.35" stroke-dasharray="4 3.75" fill="none"/>
<path d="M202.52,226.2H205.72" stroke="#349634" stroke-width="1.5"/>
<rect x="201.27" y="200.2" width="5.7" height="23.9" fill="#14c814"/>
<path d="M256.53,150V189.4" stroke="#349634" stroke-width="1.35" stroke-dasharray="4 3.75" fill="none"/>
<path d="M254.93,150H258.13" stroke="#349634" stroke-width="1.5"/>
<path d="M256.53,226.2V218" stroke="#349634" stroke-width="1.35" stroke-dasharray="4 3.75" fill="none"/>
<path d="M254.93,226.2H258.13" stroke="#349634" stroke-width="1.5"/>
<rect x="253.68" y="189.4" width="5.7" height="28.6" fill="#14c814"/>
<path d="M308.94,163.5V191.5" stroke="#349634" stroke-width="1.35" stroke-dasharray="4 3.75" fill="none"/>
<path d="M307.34,163.5H310.54" stroke="#349634" stroke-width="1.5"/>
<path d="M308.94,226.2V210.9" stroke="#349634" stroke-width="1.35" stroke-dasharray="4 3.75" fill="none"/>
<path d="M307.34,226.2H310.54" stroke="#349634" stroke-width="1.5"/>
<rect x="306.09" y="191.5" width="5.7" height="19.4" fill="#14c814"/>
<path d="M361.35,133.6V174.5" stroke="#349634" stroke-width="1.35" stroke-dasharray="4 3.75" fill="none"/>
<path d="M359.75,133.6H362.95" stroke="#349634" stroke-width="1.5"/>
<path d="M361.35,226.2V214.5" stroke="#349634" stroke-width="1.35" stroke-dasharray="4 3.75" fill="none"/>
<path d="M359.75,226.2H362.95" stroke="#349634" stroke-width="1.5"/>
<rect x="358.5" y="174.5" width="5.7" height="40" fill="#14c814"/>
<path d="M413.76,125.5V163.9" stroke="#349634" stroke-width="1.35" stroke-dasharray="4 3.75" fill="none"/>
<path d="M412.16,125.5H415.36" stroke="#349634" stroke-width="1.5"/>
<path d="M413.76,226.2V216" stroke="#349634" stroke-width="1.35" stroke-dasharray="4 3.75" fill="none"/>
<path d="M412.16,226.2H415.36" stroke="#349634" stroke-width="1.5"/>
<rect x="410.91" y="163.9" width="5.7" height="52.1" fill="#14c814"/>
<path d="M466.17,115.3V155.3" stroke="#349634" stroke-width="1.35" stroke-dasharray="4 3.75" fill="none"/>
<path d="M464.57,115.3H467.77" stroke="#349634" stroke-width="1.5"/>
<path d="M466.17,226.2V216" stroke="#349634" stroke-width="1.35" stroke-dasharray="4 3.75" fill="none"/>
<path d="M464.57,226.2H467.77" stroke="#349634" stroke-width="1.5"/>
<rect x="463.32" y="155.3" width="5.7" height="60.7" fill="#14c814"/>
<path d="M518.58,107.4V155.9" stroke="#349634" stroke-width="1.35" stroke-dasharray="4 3.75" fill="none"/>
<path d="M516.98,107.4H520.18" stroke="#349634" stroke-width="1.5"/>
<path d="M518.58,226.2V224.8" stroke="#349634" stroke-width="1.35" stroke-dasharray="4 3.75" fill="none"/>
<path d="M516.98,226.2H520.18" stroke="#349634" stroke-width="1.5"/>
<rect x="515.73" y="155.9" width="5.7" height="68.9" fill="#14c814"/>
<path d="M570.99,109.5V174.8" stroke="#349634" stroke-width="1.35" stroke-dasharray="4 3.75" fill="none"/>
<path d="M569.39,109.5H572.59" stroke="#349634" stroke-width="1.5"/>
<rect x="568.14" y="174.8" width="5.7" height="51.1" fill="#14c814"/>
<path d="M623.4,105.9V168.8" stroke="#349634" stroke-width="1.35" stroke-dasharray="4 3.75" fill="none"/>
<path d="M621.8,105.9H625" stroke="#349634" stroke-width="1.5"/>
<rect x="620.55" y="168.8" width="5.7" height="57.1" fill="#14c814"/>
<path d="M104.6,185.9V207.1" stroke="#2c2c88" stroke-width="1.35" stroke-dasharray="4 3.75" fill="none"/>
<path d="M103,185.9H106.2" stroke="#2c2c88" stroke-width="1.5"/>
<rect x="101.75" y="207.1" width="5.7" height="19.8" fill="#0c0ce0"/>
<path d="M157.01,171.6V201.1" stroke="#2c2c88" stroke-width="1.35" stroke-dasharray="4 3.75" fill="none"/>
<path d="M155.41,171.6H158.61" stroke="#2c2c88" stroke-width="1.5"/>
<rect x="154.16" y="201.1" width="5.7" height="25.8" fill="#0c0ce0"/>
<path d="M209.42,163.9V200.2" stroke="#2c2c88" stroke-width="1.35" stroke-dasharray="4 3.75" fill="none"/>
<path d="M207.82,163.9H211.02" stroke="#2c2c88" stroke-width="1.5"/>
<path d="M209.42,226.2V225.2" stroke="#2c2c88" stroke-width="1.35" stroke-dasharray="4 3.75" fill="none"/>
<path d="M207.82,226.2H211.02" stroke="#2c2c88" stroke-width="1.5"/>
<rect x="206.57" y="200.2" width="5.7" height="25" fill="#0c0ce0"/>
<path d="M261.83,142.4V189.4" stroke="#2c2c88" stroke-width="1.35" stroke-dasharray="4 3.75" fill="none"/>
<path d="M260.23,142.4H263.43" stroke="#2c2c88" stroke-width="1.5"/>
<rect x="258.98" y="189.4" width="5.7" height="36.8" fill="#0c0ce0"/>
<path d="M314.24,144.5V191.5" stroke="#2c2c88" stroke-width="1.35" stroke-dasharray="4 3.75" fill="none"/>
<path d="M312.64,144.5H315.84" stroke="#2c2c88" stroke-width="1.5"/>
<rect x="311.39" y="191.5" width="5.7" height="34.7" fill="#0c0ce0"/>
<path d="M366.65,137.3V189.4" stroke="#2c2c88" stroke-width="1.35" stroke-dasharray="4 3.75" fill="none"/>
<path d="M365.05,137.3H368.25" stroke="#2c2c88" stroke-width="1.5"/>
<rect x="363.8" y="189.4" width="5.7" height="36.8" fill="#0c0ce0"/>
<path d="M419.06,143V189.4" stroke="#2c2c88" stroke-width="1.35" stroke-dasharray="4 3.75" fill="none"/>
<path d="M417.46,143H420.66" stroke="#2c2c88" stroke-width="1.5"/>
<rect x="416.21" y="189.4" width="5.7" height="36.8" fill="#0c0ce0"/>
<path d="M471.47,115.3V181.2" stroke="#2c2c88" stroke-width="1.35" stroke-dasharray="4 3.75" fill="none"/>
<path d="M469.87,115.3H473.07" stroke="#2c2c88" stroke-width="1.5"/>
<rect x="468.62" y="181.2" width="5.7" height="45" fill="#0c0ce0"/>
<path d="M523.88,134.3V185" stroke="#2c2c88" stroke-width="1.35" stroke-dasharray="4 3.75" fill="none"/>
<path d="M522.28,134.3H525.48" stroke="#2c2c88" stroke-width="1.5"/>
<rect x="521.03" y="185" width="5.7" height="40.9" fill="#0c0ce0"/>
<path d="M576.29,126.8V182.8" stroke="#2c2c88" stroke-width="1.35" stroke-dasharray="4 3.75" fill="none"/>
<path d="M574.69,126.8H577.89" stroke="#2c2c88" stroke-width="1.5"/>
<rect x="573.44" y="182.8" width="5.7" height="43.1" fill="#0c0ce0"/>
<path d="M628.7,119.7V180" stroke="#2c2c88" stroke-width="1.35" stroke-dasharray="4 3.75" fill="none"/>
<path d="M627.1,119.7H630.3" stroke="#2c2c88" stroke-width="1.5"/>
<rect x="625.85" y="180" width="5.7" height="45.9" fill="#0c0ce0"/>
<path d="M110.1,185.9V207.1" stroke="#58bcbc" stroke-width="1.35" stroke-dasharray="4 3.75" fill="none"/>
<path d="M108.5,185.9H111.7" stroke="#58bcbc" stroke-width="1.5"/>
<rect x="107.25" y="207.1" width="5.7" height="19.8" fill="#12f0f0"/>
<path d="M162.51,171.6V201.1" stroke="#58bcbc" stroke-width="1.35" stroke-dasharray="4 3.75" fill="none"/>
<path d="M160.91,171.6H164.11" stroke="#58bcbc" stroke-width="1.5"/>
<rect x="159.66" y="201.1" width="5.7" height="25.8" fill="#12f0f0"/>
<path d="M214.92,163.9V200.2" stroke="#58bcbc" stroke-width="1.35" stroke-dasharray="4 3.75" fill="none"/>
<path d="M213.32,163.9H216.52" stroke="#58bcbc" stroke-width="1.5"/>
<path d="M214.92,226.2V225.2" stroke="#58bcbc" stroke-width="1.35" stroke-dasharray="4 3.75" fill="none"/>
<path d="M213.32,226.2H216.52" stroke="#58bcbc" stroke-width="1.5"/>
<rect x="212.07" y="200.2" width="5.7" height="25" fill="#12f0f0"/>
<path d="M267.33,142.4V189.4" stroke="#58bcbc" stroke-width="1.35" stroke-dasharray="4 3.75" fill="none"/>
<path d="M265.73,142.4H268.93" stroke="#58bcbc" stroke-width="1.5"/>
<path d="M267.33,226.2V225.2" stroke="#58bcbc" stroke-width="1.35" stroke-dasharray="4 3.75" fill="none"/>
<path d="M265.73,226.2H268.93" stroke="#58bcbc" stroke-width="1.5"/>
<rect x="264.48" y="189.4" width="5.7" height="35.8" fill="#12f0f0"/>
<path d="M319.74,148.6V191.5" stroke="#58bcbc" stroke-width="1.35" stroke-dasharray="4 3.75" fill="none"/>
<path d="M318.14,148.6H321.34" stroke="#58bcbc" stroke-width="1.5"/>
<path d="M319.74,226.2V222.1" stroke="#58bcbc" stroke-width="1.35" stroke-dasharray="4 3.75" fill="none"/>
<path d="M318.14,226.2H321.34" stroke="#58bcbc" stroke-width="1.5"/>
<rect x="316.89" y="191.5" width="5.7" height="30.6" fill="#12f0f0"/>
<path d="M372.15,148.6V185.3" stroke="#58bcbc" stroke-width="1.35" stroke-dasharray="4 3.75" fill="none"/>
<path d="M370.55,148.6H373.75" stroke="#58bcbc" stroke-width="1.5"/>
<path d="M372.15,226.2V218" stroke="#58bcbc" stroke-width="1.35" stroke-dasharray="4 3.75" fill="none"/>
<path d="M370.55,226.2H373.75" stroke="#58bcbc" stroke-width="1.5"/>
<rect x="369.3" y="185.3" width="5.7" height="32.7" fill="#12f0f0"/>
<path d="M424.56,125.5V177.2" stroke="#58bcbc" stroke-width="1.35" stroke-dasharray="4 3.75" fill="none"/>
<path d="M422.96,125.5H426.16" stroke="#58bcbc" stroke-width="1.5"/>
<path d="M424.56,226.2V216" stroke="#58bcbc" stroke-width="1.35" stroke-dasharray="4 3.75" fill="none"/>
<path d="M422.96,226.2H426.16" stroke="#58bcbc" stroke-width="1.5"/>
<rect x="421.71" y="177.2" width="5.7" height="38.8" fill="#12f0f0"/>
<path d="M476.97,115.3V164.9" stroke="#58bcbc" stroke-width="1.35" stroke-dasharray="4 3.75" fill="none"/>
<path d="M475.37,115.3H478.57" stroke="#58bcbc" stroke-width="1.5"/>
<path d="M476.97,226.2V212" stroke="#58bcbc" stroke-width="1.35" stroke-dasharray="4 3.75" fill="none"/>
<path d="M475.37,226.2H478.57" stroke="#58bcbc" stroke-width="1.5"/>
<rect x="474.12" y="164.9" width="5.7" height="47.1" fill="#12f0f0"/>
<path d="M529.38,108V155.4" stroke="#58bcbc" stroke-width="1.35" stroke-dasharray="4 3.75" fill="none"/>
<path d="M527.78,108H530.98" stroke="#58bcbc" stroke-width="1.5"/>
<path d="M529.38,226.2V213" stroke="#58bcbc" stroke-width="1.35" stroke-dasharray="4 3.75" fill="none"/>
<path d="M527.78,226.2H530.98" stroke="#58bcbc" stroke-width="1.5"/>
<rect x="526.53" y="155.4" width="5.7" height="57.6" fill="#12f0f0"/>
<path d="M581.79,98.8V143.4" stroke="#58bcbc" stroke-width="1.35" stroke-dasharray="4 3.75" fill="none"/>
<path d="M580.19,98.8H583.39" stroke="#58bcbc" stroke-width="1.5"/>
<path d="M581.79,226.2V207.6" stroke="#58bcbc" stroke-width="1.35" stroke-dasharray="4 3.75" fill="none"/>
<path d="M580.19,226.2H583.39" stroke="#58bcbc" stroke-width="1.5"/>
<rect x="578.94" y="143.4" width="5.7" height="64.2" fill="#12f0f0"/>
<path d="M634.2,90.8V135.4" stroke="#58bcbc" stroke-width="1.35" stroke-dasharray="4 3.75" fill="none"/>
<path d="M632.6,90.8H635.8" stroke="#58bcbc" stroke-width="1.5"/>
<path d="M634.2,226.2V204.3" stroke="#58bcbc" stroke-width="1.35" stroke-dasharray="4 3.75" fill="none"/>
<path d="M632.6,226.2H635.8" stroke="#58bcbc" stroke-width="1.5"/>
<rect x="631.35" y="135.4" width="5.7" height="68.9" fill="#12f0f0"/>
<polyline points="110.1,224.9 162.51,224.7 214.92,223.1 267.33,219.4 319.74,209.8 372.15,203.1 424.56,200.2 476.97,195.5 529.38,188.2 581.79,180.6 634.2,172" stroke="#30dcdc" stroke-width="2.4" fill="none" stroke-linejoin="round"/>
<path d="M100.00,191.03 L106.63,189.62 L113.26,188.21 L119.89,186.81 L126.52,185.42 L133.15,184.02 L139.77,182.64 L146.40,181.26 L153.03,179.88 L159.66,178.51 L166.29,177.14 L172.92,175.78 L179.55,174.43 L186.18,173.08 L192.81,171.74 L199.44,170.40 L206.07,169.07 L212.69,167.75 L219.32,166.43 L225.95,165.12 L232.58,163.82 L239.21,162.52 L245.84,161.23 L252.47,159.94 L259.10,158.67 L265.73,157.40 L272.36,156.14 L278.99,154.89 L285.62,153.64 L292.24,152.40 L298.87,151.17 L305.50,149.95 L312.13,148.74 L318.76,147.53 L325.39,146.34 L332.02,145.15 L338.65,143.97 L345.28,142.80 L351.91,141.64 L358.54,140.49 L365.16,139.35 L371.79,138.21 L378.42,137.09 L385.05,135.98 L391.68,134.87 L398.31,133.78 L404.94,132.70 L411.57,131.62 L418.20,130.56 L424.83,129.51 L431.46,128.47 L438.08,127.44 L444.71,126.42 L451.34,125.41 L457.97,124.41 L464.60,123.42 L471.23,122.45 L477.86,121.48 L484.49,120.53 L491.12,119.59 L497.75,118.66 L504.38,117.75 L511.01,116.85 L517.63,115.95 L524.26,115.08 L530.89,114.21 L537.52,113.36 L544.15,112.52 L550.78,111.69 L557.41,110.87 L564.04,110.07 L570.67,109.28 L577.30,108.51 L583.93,107.75 L590.55,107.00 L597.18,106.27 L603.81,105.55 L610.44,104.85 L617.07,104.16 L623.70,103.48" stroke="#000" stroke-width="3.6" stroke-dasharray="0 11.64" stroke-linecap="round" fill="none"/>
<rect x="50.65" y="36.9" width="622.35" height="196.95" fill="none" stroke="#111" stroke-width="1.5"/>
</g>
<g transform="translate(0,621.2)">
<text x="362.6" y="16.1" font-size="12.2" font-weight="bold" letter-spacing="0.7" text-anchor="middle" fill="#111">(C) HAD</text>
<text transform="translate(11.1,134.4) rotate(-90)" font-size="10.6" text-anchor="middle" fill="#222">Aboveground Live Carbon (Mg ha<tspan font-size="7.6" dy="-4.6" dx="0.6">−1</tspan><tspan dy="4.6" dx="0.4">)</tspan></text>
<line x1="43.5" y1="226.9" x2="50.65" y2="226.9" stroke="#111" stroke-width="1.4"/>
<text transform="translate(36.4,226.9) rotate(-90)" font-size="10" text-anchor="middle" fill="#222">0</text>
<line x1="43.5" y1="196.42" x2="50.65" y2="196.42" stroke="#111" stroke-width="1.4"/>
<text transform="translate(36.4,196.42) rotate(-90)" font-size="10" text-anchor="middle" fill="#222">50</text>
<line x1="43.5" y1="165.93" x2="50.65" y2="165.93" stroke="#111" stroke-width="1.4"/>
<text transform="translate(36.4,165.93) rotate(-90)" font-size="10" text-anchor="middle" fill="#222">100</text>
<line x1="43.5" y1="135.44" x2="50.65" y2="135.44" stroke="#111" stroke-width="1.4"/>
<text transform="translate(36.4,135.44) rotate(-90)" font-size="10" text-anchor="middle" fill="#222">150</text>
<line x1="43.5" y1="104.96" x2="50.65" y2="104.96" stroke="#111" stroke-width="1.4"/>
<text transform="translate(36.4,104.96) rotate(-90)" font-size="10" text-anchor="middle" fill="#222">200</text>
<line x1="43.5" y1="74.47" x2="50.65" y2="74.47" stroke="#111" stroke-width="1.4"/>
<text transform="translate(36.4,74.47) rotate(-90)" font-size="10" text-anchor="middle" fill="#222">250</text>
<line x1="43.5" y1="43.99" x2="50.65" y2="43.99" stroke="#111" stroke-width="1.4"/>
<text transform="translate(36.4,43.99) rotate(-90)" font-size="10" text-anchor="middle" fill="#222">300</text>
<line x1="99.6" y1="233.85" x2="99.6" y2="240.4" stroke="#111" stroke-width="1.4"/>
<text transform="translate(99.6,256.5) scale(0.94,1)" font-size="10.6" text-anchor="middle" fill="#222">2010</text>
<line x1="152.01" y1="233.85" x2="152.01" y2="240.4" stroke="#111" stroke-width="1.4"/>
<text transform="translate(152.01,256.5) scale(0.94,1)" font-size="10.6" text-anchor="middle" fill="#222">2020</text>
<line x1="204.42" y1="233.85" x2="204.42" y2="240.4" stroke="#111" stroke-width="1.4"/>
<text transform="translate(204.42,256.5) scale(0.94,1)" font-size="10.6" text-anchor="middle" fill="#222">2030</text>
<line x1="256.83" y1="233.85" x2="256.83" y2="240.4" stroke="#111" stroke-width="1.4"/>
<text transform="translate(256.83,256.5) scale(0.94,1)" font-size="10.6" text-anchor="middle" fill="#222">2040</text>
<line x1="309.24" y1="233.85" x2="309.24" y2="240.4" stroke="#111" stroke-width="1.4"/>
<text transform="translate(309.24,256.5) scale(0.94,1)" font-size="10.6" text-anchor="middle" fill="#222">2050</text>
<line x1="361.65" y1="233.85" x2="361.65" y2="240.4" stroke="#111" stroke-width="1.4"/>
<text transform="translate(361.65,256.5) scale(0.94,1)" font-size="10.6" text-anchor="middle" fill="#222">2060</text>
<line x1="414.06" y1="233.85" x2="414.06" y2="240.4" stroke="#111" stroke-width="1.4"/>
<text transform="translate(414.06,256.5) scale(0.94,1)" font-size="10.6" text-anchor="middle" fill="#222">2070</text>
<line x1="466.47" y1="233.85" x2="466.47" y2="240.4" stroke="#111" stroke-width="1.4"/>
<text transform="translate(466.47,256.5) scale(0.94,1)" font-size="10.6" text-anchor="middle" fill="#222">2080</text>
<line x1="518.88" y1="233.85" x2="518.88" y2="240.4" stroke="#111" stroke-width="1.4"/>
<text transform="translate(518.88,256.5) scale(0.94,1)" font-size="10.6" text-anchor="middle" fill="#222">2090</text>
<line x1="571.29" y1="233.85" x2="571.29" y2="240.4" stroke="#111" stroke-width="1.4"/>
<text transform="translate(571.29,256.5) scale(0.94,1)" font-size="10.6" text-anchor="middle" fill="#222">2100</text>
<line x1="623.7" y1="233.85" x2="623.7" y2="240.4" stroke="#111" stroke-width="1.4"/>
<text transform="translate(623.7,256.5) scale(0.94,1)" font-size="10.6" text-anchor="middle" fill="#222">2110</text>
<polyline points="88.2,199.3 140.61,187.6 193.02,177.1 245.43,166.2 297.84,154.6 350.25,156 402.66,150.9 455.07,146.8 507.48,151.3 559.89,145.5 612.3,136.2" stroke="#000000" stroke-width="2.4" fill="none" stroke-linejoin="round"/>
<polyline points="99.3,225.3 151.71,225.2 204.12,221.4 256.53,213.8 308.94,196.9 361.35,187.7 413.76,189.7 466.17,191.8 518.58,204.3 570.99,209 623.4,212.3" stroke="#1eb41e" stroke-width="2.4" fill="none" stroke-linejoin="round"/>
<polyline points="104.6,225.6 157.01,225.6 209.42,225 261.83,222 314.24,214.2 366.65,210.2 419.06,211.8 471.47,211.2 523.88,217.6 576.29,216.6 628.7,217.6" stroke="#1414a0" stroke-width="2.4" fill="none" stroke-linejoin="round"/>
<path d="M88.2,123.1V172" stroke="#111111" stroke-width="1.35" stroke-dasharray="4 3.75" fill="none"/>
<path d="M86.6,123.1H89.8" stroke="#111111" stroke-width="1.5"/>
<path d="M88.2,226.2V214.7" stroke="#111111" stroke-width="1.35" stroke-dasharray="4 3.75" fill="none"/>
<path d="M86.6,226.2H89.8" stroke="#111111" stroke-width="1.5"/>
<rect x="85.35" y="172" width="5.7" height="42.7" fill="#000000"/>
<path d="M140.61,113V157.6" stroke="#111111" stroke-width="1.35" stroke-dasharray="4 3.75" fill="none"/>
<path d="M139.01,113H142.21" stroke="#111111" stroke-width="1.5"/>
<path d="M140.61,226.2V201.2" stroke="#111111" stroke-width="1.35" stroke-dasharray="4 3.75" fill="none"/>
<path d="M139.01,226.2H142.21" stroke="#111111" stroke-width="1.5"/>
<rect x="137.76" y="157.6" width="5.7" height="43.6" fill="#000000"/>
<path d="M193.02,105.6V144.4" stroke="#111111" stroke-width="1.35" stroke-dasharray="4 3.75" fill="none"/>
<path d="M191.42,105.6H194.62" stroke="#111111" stroke-width="1.5"/>
<path d="M193.02,225.5V191.4" stroke="#111111" stroke-width="1.35" stroke-dasharray="4 3.75" fill="none"/>
<path d="M191.42,225.5H194.62" stroke="#111111" stroke-width="1.5"/>
<rect x="190.17" y="144.4" width="5.7" height="47" fill="#000000"/>
<path d="M245.43,99.5V138.7" stroke="#111111" stroke-width="1.35" stroke-dasharray="4 3.75" fill="none"/>
<path d="M243.83,99.5H247.03" stroke="#111111" stroke-width="1.5"/>
<path d="M245.43,226.2V185.2" stroke="#111111" stroke-width="1.35" stroke-dasharray="4 3.75" fill="none"/>
<path d="M243.83,226.2H247.03" stroke="#111111" stroke-width="1.5"/>
<rect x="242.58" y="138.7" width="5.7" height="46.5" fill="#000000"/>
<path d="M297.84,93.3V132.5" stroke="#111111" stroke-width="1.35" stroke-dasharray="4 3.75" fill="none"/>
<path d="M296.24,93.3H299.44" stroke="#111111" stroke-width="1.5"/>
<path d="M297.84,224V175.4" stroke="#111111" stroke-width="1.35" stroke-dasharray="4 3.75" fill="none"/>
<path d="M296.24,224H299.44" stroke="#111111" stroke-width="1.5"/>
<rect x="294.99" y="132.5" width="5.7" height="42.9" fill="#000000"/>
<path d="M350.25,92.7V126" stroke="#111111" stroke-width="1.35" stroke-dasharray="4 3.75" fill="none"/>
<path d="M348.65,92.7H351.85" stroke="#111111" stroke-width="1.5"/>
<path d="M350.25,219.3V171.3" stroke="#111111" stroke-width="1.35" stroke-dasharray="4 3.75" fill="none"/>
<path d="M348.65,219.3H351.85" stroke="#111111" stroke-width="1.5"/>
<rect x="347.4" y="126" width="5.7" height="45.3" fill="#000000"/>
<path d="M402.66,88V128.5" stroke="#111111" stroke-width="1.35" stroke-dasharray="4 3.75" fill="none"/>
<path d="M401.06,88H404.26" stroke="#111111" stroke-width="1.5"/>
<path d="M402.66,214.6V175.8" stroke="#111111" stroke-width="1.35" stroke-dasharray="4 3.75" fill="none"/>
<path d="M401.06,214.6H404.26" stroke="#111111" stroke-width="1.5"/>
<rect x="399.81" y="128.5" width="5.7" height="47.3" fill="#000000"/>
<path d="M455.07,81.1V130.9" stroke="#111111" stroke-width="1.35" stroke-dasharray="4 3.75" fill="none"/>
<path d="M453.47,81.1H456.67" stroke="#111111" stroke-width="1.5"/>
<path d="M455.07,215.3V177.9" stroke="#111111" stroke-width="1.35" stroke-dasharray="4 3.75" fill="none"/>
<path d="M453.47,215.3H456.67" stroke="#111111" stroke-width="1.5"/>
<rect x="452.22" y="130.9" width="5.7" height="47" fill="#000000"/>
<path d="M507.48,60.3V122.8" stroke="#111111" stroke-width="1.35" stroke-dasharray="4 3.75" fill="none"/>
<path d="M505.88,60.3H509.08" stroke="#111111" stroke-width="1.5"/>
<path d="M507.48,217.6V178.9" stroke="#111111" stroke-width="1.35" stroke-dasharray="4 3.75" fill="none"/>
<path d="M505.88,217.6H509.08" stroke="#111111" stroke-width="1.5"/>
<rect x="504.63" y="122.8" width="5.7" height="56.1" fill="#000000"/>
<path d="M559.89,69.4V114.6" stroke="#111111" stroke-width="1.35" stroke-dasharray="4 3.75" fill="none"/>
<path d="M558.29,69.4H561.49" stroke="#111111" stroke-width="1.5"/>
<path d="M559.89,219.4V182.1" stroke="#111111" stroke-width="1.35" stroke-dasharray="4 3.75" fill="none"/>
<path d="M558.29,219.4H561.49" stroke="#111111" stroke-width="1.5"/>
<rect x="557.04" y="114.6" width="5.7" height="67.5" fill="#000000"/>
<path d="M612.3,64.7V108.2" stroke="#111111" stroke-width="1.35" stroke-dasharray="4 3.75" fill="none"/>
<path d="M610.7,64.7H613.9" stroke="#111111" stroke-width="1.5"/>
<path d="M612.3,220.9V187.5" stroke="#111111" stroke-width="1.35" stroke-dasharray="4 3.75" fill="none"/>
<path d="M610.7,220.9H613.9" stroke="#111111" stroke-width="1.5"/>
<rect x="609.45" y="108.2" width="5.7" height="79.3" fill="#000000"/>
<polyline points="93.4,225.2 145.81,225 198.22,209.1 250.63,189.7 303.04,170.9 355.45,160.7 407.86,182 460.27,183.6 512.68,185.8 565.09,184.9 617.5,192.9" stroke="#cc2020" stroke-width="2.4" fill="none" stroke-linejoin="round"/>
<path d="M93.4,185.7V209.1" stroke="#a83838" stroke-width="1.35" stroke-dasharray="4 3.75" fill="none"/>
<path d="M91.8,185.7H95" stroke="#a83838" stroke-width="1.5"/>
<rect x="90.55" y="209.1" width="5.7" height="17.1" fill="#f01010"/>
<path d="M145.81,170.9V200.4" stroke="#a83838" stroke-width="1.35" stroke-dasharray="4 3.75" fill="none"/>
<path d="M144.21,170.9H147.41" stroke="#a83838" stroke-width="1.5"/>
<rect x="142.96" y="200.4" width="5.7" height="25.8" fill="#f01010"/>
<path d="M198.22,177.9V199.9" stroke="#a83838" stroke-width="1.35" stroke-dasharray="4 3.75" fill="none"/>
<path d="M196.62,177.9H199.82" stroke="#a83838" stroke-width="1.5"/>
<path d="M198.22,226.2V217.9" stroke="#a83838" stroke-width="1.35" stroke-dasharray="4 3.75" fill="none"/>
<path d="M196.62,226.2H199.82" stroke="#a83838" stroke-width="1.5"/>
<rect x="195.37" y="199.9" width="5.7" height="18" fill="#f01010"/>
<path d="M250.63,154.6V180.5" stroke="#a83838" stroke-width="1.35" stroke-dasharray="4 3.75" fill="none"/>
<path d="M249.03,154.6H252.23" stroke="#a83838" stroke-width="1.5"/>
<path d="M250.63,226.2V203" stroke="#a83838" stroke-width="1.35" stroke-dasharray="4 3.75" fill="none"/>
<path d="M249.03,226.2H252.23" stroke="#a83838" stroke-width="1.5"/>
<rect x="247.78" y="180.5" width="5.7" height="22.5" fill="#f01010"/>
<path d="M303.04,122.3V160.1" stroke="#a83838" stroke-width="1.35" stroke-dasharray="4 3.75" fill="none"/>
<path d="M301.44,122.3H304.64" stroke="#a83838" stroke-width="1.5"/>
<path d="M303.04,226.2V198.9" stroke="#a83838" stroke-width="1.35" stroke-dasharray="4 3.75" fill="none"/>
<path d="M301.44,226.2H304.64" stroke="#a83838" stroke-width="1.5"/>
<rect x="300.19" y="160.1" width="5.7" height="38.8" fill="#f01010"/>
<path d="M355.45,120.3V145.2" stroke="#a83838" stroke-width="1.35" stroke-dasharray="4 3.75" fill="none"/>
<path d="M353.85,120.3H357.05" stroke="#a83838" stroke-width="1.5"/>
<path d="M355.45,226.2V196.3" stroke="#a83838" stroke-width="1.35" stroke-dasharray="4 3.75" fill="none"/>
<path d="M353.85,226.2H357.05" stroke="#a83838" stroke-width="1.5"/>
<rect x="352.6" y="145.2" width="5.7" height="51.1" fill="#f01010"/>
<path d="M407.86,116.2V146.4" stroke="#a83838" stroke-width="1.35" stroke-dasharray="4 3.75" fill="none"/>
<path d="M406.26,116.2H409.46" stroke="#a83838" stroke-width="1.5"/>
<path d="M407.86,226.2V210.2" stroke="#a83838" stroke-width="1.35" stroke-dasharray="4 3.75" fill="none"/>
<path d="M406.26,226.2H409.46" stroke="#a83838" stroke-width="1.5"/>
<rect x="405.01" y="146.4" width="5.7" height="63.8" fill="#f01010"/>
<path d="M460.27,103.5V143.2" stroke="#a83838" stroke-width="1.35" stroke-dasharray="4 3.75" fill="none"/>
<path d="M458.67,103.5H461.87" stroke="#a83838" stroke-width="1.5"/>
<path d="M460.27,226.2V207.1" stroke="#a83838" stroke-width="1.35" stroke-dasharray="4 3.75" fill="none"/>
<path d="M458.67,226.2H461.87" stroke="#a83838" stroke-width="1.5"/>
<rect x="457.42" y="143.2" width="5.7" height="63.9" fill="#f01010"/>
<path d="M512.68,97V146.5" stroke="#a83838" stroke-width="1.35" stroke-dasharray="4 3.75" fill="none"/>
<path d="M511.08,97H514.28" stroke="#a83838" stroke-width="1.5"/>
<path d="M512.68,226.2V206.9" stroke="#a83838" stroke-width="1.35" stroke-dasharray="4 3.75" fill="none"/>
<path d="M511.08,226.2H514.28" stroke="#a83838" stroke-width="1.5"/>
<rect x="509.83" y="146.5" width="5.7" height="60.4" fill="#f01010"/>
<path d="M565.09,94.4V144.4" stroke="#a83838" stroke-width="1.35" stroke-dasharray="4 3.75" fill="none"/>
<path d="M563.49,94.4H566.69" stroke="#a83838" stroke-width="1.5"/>
<path d="M565.09,226.2V205.8" stroke="#a83838" stroke-width="1.35" stroke-dasharray="4 3.75" fill="none"/>
<path d="M563.49,226.2H566.69" stroke="#a83838" stroke-width="1.5"/>
<rect x="562.24" y="144.4" width="5.7" height="61.4" fill="#f01010"/>
<path d="M617.5,87.9V147" stroke="#a83838" stroke-width="1.35" stroke-dasharray="4 3.75" fill="none"/>
<path d="M615.9,87.9H619.1" stroke="#a83838" stroke-width="1.5"/>
<path d="M617.5,226.2V213.3" stroke="#a83838" stroke-width="1.35" stroke-dasharray="4 3.75" fill="none"/>
<path d="M615.9,226.2H619.1" stroke="#a83838" stroke-width="1.5"/>
<rect x="614.65" y="147" width="5.7" height="66.3" fill="#f01010"/>
<path d="M99.3,185.7V209.1" stroke="#349634" stroke-width="1.35" stroke-dasharray="4 3.75" fill="none"/>
<path d="M97.7,185.7H100.9" stroke="#349634" stroke-width="1.5"/>
<rect x="96.45" y="209.1" width="5.7" height="17.1" fill="#14c814"/>
<path d="M151.71,170.9V200.4" stroke="#349634" stroke-width="1.35" stroke-dasharray="4 3.75" fill="none"/>
<path d="M150.11,170.9H153.31" stroke="#349634" stroke-width="1.5"/>
<rect x="148.86" y="200.4" width="5.7" height="25.8" fill="#14c814"/>
<path d="M204.12,177.9V200.4" stroke="#349634" stroke-width="1.35" stroke-dasharray="4 3.75" fill="none"/>
<path d="M202.52,177.9H205.72" stroke="#349634" stroke-width="1.5"/>
<path d="M204.12,226.2V223.4" stroke="#349634" stroke-width="1.35" stroke-dasharray="4 3.75" fill="none"/>
<path d="M202.52,226.2H205.72" stroke="#349634" stroke-width="1.5"/>
<rect x="201.27" y="200.4" width="5.7" height="23" fill="#14c814"/>
<path d="M256.53,145.2V188.1" stroke="#349634" stroke-width="1.35" stroke-dasharray="4 3.75" fill="none"/>
<path d="M254.93,145.2H258.13" stroke="#349634" stroke-width="1.5"/>
<path d="M256.53,226.2V216.7" stroke="#349634" stroke-width="1.35" stroke-dasharray="4 3.75" fill="none"/>
<path d="M254.93,226.2H258.13" stroke="#349634" stroke-width="1.5"/>
<rect x="253.68" y="188.1" width="5.7" height="28.6" fill="#14c814"/>
<path d="M308.94,160.1V189.3" stroke="#349634" stroke-width="1.35" stroke-dasharray="4 3.75" fill="none"/>
<path d="M307.34,160.1H310.54" stroke="#349634" stroke-width="1.5"/>
<path d="M308.94,226.2V208.1" stroke="#349634" stroke-width="1.35" stroke-dasharray="4 3.75" fill="none"/>
<path d="M307.34,226.2H310.54" stroke="#349634" stroke-width="1.5"/>
<rect x="306.09" y="189.3" width="5.7" height="18.8" fill="#14c814"/>
<path d="M361.35,130.1V174.4" stroke="#349634" stroke-width="1.35" stroke-dasharray="4 3.75" fill="none"/>
<path d="M359.75,130.1H362.95" stroke="#349634" stroke-width="1.5"/>
<path d="M361.35,226.2V208.1" stroke="#349634" stroke-width="1.35" stroke-dasharray="4 3.75" fill="none"/>
<path d="M359.75,226.2H362.95" stroke="#349634" stroke-width="1.5"/>
<rect x="358.5" y="174.4" width="5.7" height="33.7" fill="#14c814"/>
<path d="M413.76,122.7V163.6" stroke="#349634" stroke-width="1.35" stroke-dasharray="4 3.75" fill="none"/>
<path d="M412.16,122.7H415.36" stroke="#349634" stroke-width="1.5"/>
<path d="M413.76,226.2V210.2" stroke="#349634" stroke-width="1.35" stroke-dasharray="4 3.75" fill="none"/>
<path d="M412.16,226.2H415.36" stroke="#349634" stroke-width="1.5"/>
<rect x="410.91" y="163.6" width="5.7" height="46.6" fill="#14c814"/>
<path d="M466.17,116.2V157.1" stroke="#349634" stroke-width="1.35" stroke-dasharray="4 3.75" fill="none"/>
<path d="M464.57,116.2H467.77" stroke="#349634" stroke-width="1.5"/>
<path d="M466.17,226.2V213.8" stroke="#349634" stroke-width="1.35" stroke-dasharray="4 3.75" fill="none"/>
<path d="M464.57,226.2H467.77" stroke="#349634" stroke-width="1.5"/>
<rect x="463.32" y="157.1" width="5.7" height="56.7" fill="#14c814"/>
<path d="M518.58,108.8V167" stroke="#349634" stroke-width="1.35" stroke-dasharray="4 3.75" fill="none"/>
<path d="M516.98,108.8H520.18" stroke="#349634" stroke-width="1.5"/>
<path d="M518.58,226.2V224.5" stroke="#349634" stroke-width="1.35" stroke-dasharray="4 3.75" fill="none"/>
<path d="M516.98,226.2H520.18" stroke="#349634" stroke-width="1.5"/>
<rect x="515.73" y="167" width="5.7" height="57.5" fill="#14c814"/>
<path d="M570.99,115.9V179.3" stroke="#349634" stroke-width="1.35" stroke-dasharray="4 3.75" fill="none"/>
<path d="M569.39,115.9H572.59" stroke="#349634" stroke-width="1.5"/>
<rect x="568.14" y="179.3" width="5.7" height="46.9" fill="#14c814"/>
<path d="M623.4,139V187.5" stroke="#349634" stroke-width="1.35" stroke-dasharray="4 3.75" fill="none"/>
<path d="M621.8,139H625" stroke="#349634" stroke-width="1.5"/>
<rect x="620.55" y="187.5" width="5.7" height="38.7" fill="#14c814"/>
<path d="M104.6,185.7V209.1" stroke="#2c2c88" stroke-width="1.35" stroke-dasharray="4 3.75" fill="none"/>
<path d="M103,185.7H106.2" stroke="#2c2c88" stroke-width="1.5"/>
<rect x="101.75" y="209.1" width="5.7" height="17.1" fill="#0c0ce0"/>
<path d="M157.01,170.9V200.4" stroke="#2c2c88" stroke-width="1.35" stroke-dasharray="4 3.75" fill="none"/>
<path d="M155.41,170.9H158.61" stroke="#2c2c88" stroke-width="1.5"/>
<rect x="154.16" y="200.4" width="5.7" height="25.8" fill="#0c0ce0"/>
<path d="M209.42,177.9V200.4" stroke="#2c2c88" stroke-width="1.35" stroke-dasharray="4 3.75" fill="none"/>
<path d="M207.82,177.9H211.02" stroke="#2c2c88" stroke-width="1.5"/>
<rect x="206.57" y="200.4" width="5.7" height="25.8" fill="#0c0ce0"/>
<path d="M261.83,142.3V188.1" stroke="#2c2c88" stroke-width="1.35" stroke-dasharray="4 3.75" fill="none"/>
<path d="M260.23,142.3H263.43" stroke="#2c2c88" stroke-width="1.5"/>
<rect x="258.98" y="188.1" width="5.7" height="38.1" fill="#0c0ce0"/>
<path d="M314.24,160.1V192.8" stroke="#2c2c88" stroke-width="1.35" stroke-dasharray="4 3.75" fill="none"/>
<path d="M312.64,160.1H315.84" stroke="#2c2c88" stroke-width="1.5"/>
<path d="M314.24,226.2V221.4" stroke="#2c2c88" stroke-width="1.35" stroke-dasharray="4 3.75" fill="none"/>
<path d="M312.64,226.2H315.84" stroke="#2c2c88" stroke-width="1.5"/>
<rect x="311.39" y="192.8" width="5.7" height="28.6" fill="#0c0ce0"/>
<path d="M366.65,135.6V187.3" stroke="#2c2c88" stroke-width="1.35" stroke-dasharray="4 3.75" fill="none"/>
<path d="M365.05,135.6H368.25" stroke="#2c2c88" stroke-width="1.5"/>
<rect x="363.8" y="187.3" width="5.7" height="38.9" fill="#0c0ce0"/>
<path d="M419.06,143.8V189.7" stroke="#2c2c88" stroke-width="1.35" stroke-dasharray="4 3.75" fill="none"/>
<path d="M417.46,143.8H420.66" stroke="#2c2c88" stroke-width="1.5"/>
<rect x="416.21" y="189.7" width="5.7" height="36.5" fill="#0c0ce0"/>
<path d="M471.47,131.5V187.7" stroke="#2c2c88" stroke-width="1.35" stroke-dasharray="4 3.75" fill="none"/>
<path d="M469.87,131.5H473.07" stroke="#2c2c88" stroke-width="1.5"/>
<rect x="468.62" y="187.7" width="5.7" height="38.5" fill="#0c0ce0"/>
<path d="M523.88,136.8V186.4" stroke="#2c2c88" stroke-width="1.35" stroke-dasharray="4 3.75" fill="none"/>
<path d="M522.28,136.8H525.48" stroke="#2c2c88" stroke-width="1.5"/>
<rect x="521.03" y="186.4" width="5.7" height="39.8" fill="#0c0ce0"/>
<path d="M576.29,129.7V182.7" stroke="#2c2c88" stroke-width="1.35" stroke-dasharray="4 3.75" fill="none"/>
<path d="M574.69,129.7H577.89" stroke="#2c2c88" stroke-width="1.5"/>
<rect x="573.44" y="182.7" width="5.7" height="43.5" fill="#0c0ce0"/>
<path d="M628.7,139V187.9" stroke="#2c2c88" stroke-width="1.35" stroke-dasharray="4 3.75" fill="none"/>
<path d="M627.1,139H630.3" stroke="#2c2c88" stroke-width="1.5"/>
<rect x="625.85" y="187.9" width="5.7" height="38.3" fill="#0c0ce0"/>
<path d="M110.1,185.7V209.1" stroke="#58bcbc" stroke-width="1.35" stroke-dasharray="4 3.75" fill="none"/>
<path d="M108.5,185.7H111.7" stroke="#58bcbc" stroke-width="1.5"/>
<rect x="107.25" y="209.1" width="5.7" height="17.1" fill="#12f0f0"/>
<path d="M162.51,170.9V200.4" stroke="#58bcbc" stroke-width="1.35" stroke-dasharray="4 3.75" fill="none"/>
<path d="M160.91,170.9H164.11" stroke="#58bcbc" stroke-width="1.5"/>
<rect x="159.66" y="200.4" width="5.7" height="25.8" fill="#12f0f0"/>
<path d="M214.92,177.9V200.4" stroke="#58bcbc" stroke-width="1.35" stroke-dasharray="4 3.75" fill="none"/>
<path d="M213.32,177.9H216.52" stroke="#58bcbc" stroke-width="1.5"/>
<path d="M214.92,226.2V225.5" stroke="#58bcbc" stroke-width="1.35" stroke-dasharray="4 3.75" fill="none"/>
<path d="M213.32,226.2H216.52" stroke="#58bcbc" stroke-width="1.5"/>
<rect x="212.07" y="200.4" width="5.7" height="25.1" fill="#12f0f0"/>
<path d="M267.33,142.3V188.1" stroke="#58bcbc" stroke-width="1.35" stroke-dasharray="4 3.75" fill="none"/>
<path d="M265.73,142.3H268.93" stroke="#58bcbc" stroke-width="1.5"/>
<path d="M267.33,226.2V225.5" stroke="#58bcbc" stroke-width="1.35" stroke-dasharray="4 3.75" fill="none"/>
<path d="M265.73,226.2H268.93" stroke="#58bcbc" stroke-width="1.5"/>
<rect x="264.48" y="188.1" width="5.7" height="37.4" fill="#12f0f0"/>
<path d="M319.74,160.1V192.8" stroke="#58bcbc" stroke-width="1.35" stroke-dasharray="4 3.75" fill="none"/>
<path d="M318.14,160.1H321.34" stroke="#58bcbc" stroke-width="1.5"/>
<path d="M319.74,226.2V219.3" stroke="#58bcbc" stroke-width="1.35" stroke-dasharray="4 3.75" fill="none"/>
<path d="M318.14,226.2H321.34" stroke="#58bcbc" stroke-width="1.5"/>
<rect x="316.89" y="192.8" width="5.7" height="26.5" fill="#12f0f0"/>
<path d="M372.15,152V183.2" stroke="#58bcbc" stroke-width="1.35" stroke-dasharray="4 3.75" fill="none"/>
<path d="M370.55,152H373.75" stroke="#58bcbc" stroke-width="1.5"/>
<path d="M372.15,226.2V214.2" stroke="#58bcbc" stroke-width="1.35" stroke-dasharray="4 3.75" fill="none"/>
<path d="M370.55,226.2H373.75" stroke="#58bcbc" stroke-width="1.5"/>
<rect x="369.3" y="183.2" width="5.7" height="31" fill="#12f0f0"/>
<path d="M424.56,131.5V176.5" stroke="#58bcbc" stroke-width="1.35" stroke-dasharray="4 3.75" fill="none"/>
<path d="M422.96,131.5H426.16" stroke="#58bcbc" stroke-width="1.5"/>
<path d="M424.56,226.2V210.2" stroke="#58bcbc" stroke-width="1.35" stroke-dasharray="4 3.75" fill="none"/>
<path d="M422.96,226.2H426.16" stroke="#58bcbc" stroke-width="1.5"/>
<rect x="421.71" y="176.5" width="5.7" height="33.7" fill="#12f0f0"/>
<path d="M476.97,116.2V164.2" stroke="#58bcbc" stroke-width="1.35" stroke-dasharray="4 3.75" fill="none"/>
<path d="M475.37,116.2H478.57" stroke="#58bcbc" stroke-width="1.5"/>
<path d="M476.97,226.2V212" stroke="#58bcbc" stroke-width="1.35" stroke-dasharray="4 3.75" fill="none"/>
<path d="M475.37,226.2H478.57" stroke="#58bcbc" stroke-width="1.5"/>
<rect x="474.12" y="164.2" width="5.7" height="47.8" fill="#12f0f0"/>
<path d="M529.38,108.8V154.7" stroke="#58bcbc" stroke-width="1.35" stroke-dasharray="4 3.75" fill="none"/>
<path d="M527.78,108.8H530.98" stroke="#58bcbc" stroke-width="1.5"/>
<path d="M529.38,226.2V206.4" stroke="#58bcbc" stroke-width="1.35" stroke-dasharray="4 3.75" fill="none"/>
<path d="M527.78,226.2H530.98" stroke="#58bcbc" stroke-width="1.5"/>
<rect x="526.53" y="154.7" width="5.7" height="51.7" fill="#12f0f0"/>
<path d="M581.79,101.7V143.3" stroke="#58bcbc" stroke-width="1.35" stroke-dasharray="4 3.75" fill="none"/>
<path d="M580.19,101.7H583.39" stroke="#58bcbc" stroke-width="1.5"/>
<path d="M581.79,226.2V202.6" stroke="#58bcbc" stroke-width="1.35" stroke-dasharray="4 3.75" fill="none"/>
<path d="M580.19,226.2H583.39" stroke="#58bcbc" stroke-width="1.5"/>
<rect x="578.94" y="143.3" width="5.7" height="59.3" fill="#12f0f0"/>
<path d="M634.2,90.9V131" stroke="#58bcbc" stroke-width="1.35" stroke-dasharray="4 3.75" fill="none"/>
<path d="M632.6,90.9H635.8" stroke="#58bcbc" stroke-width="1.5"/>
<path d="M634.2,226.2V202.1" stroke="#58bcbc" stroke-width="1.35" stroke-dasharray="4 3.75" fill="none"/>
<path d="M632.6,226.2H635.8" stroke="#58bcbc" stroke-width="1.5"/>
<rect x="631.35" y="131" width="5.7" height="71.1" fill="#12f0f0"/>
<polyline points="110.1,224.9 162.51,224.7 214.92,223.5 267.33,218.7 319.74,207.1 372.15,194.8 424.56,192.8 476.97,189.7 529.38,185.3 581.79,177.8 634.2,167" stroke="#30dcdc" stroke-width="2.4" fill="none" stroke-linejoin="round"/>
<path d="M100.00,191.03 L106.63,189.62 L113.26,188.21 L119.89,186.81 L126.52,185.42 L133.15,184.02 L139.77,182.64 L146.40,181.26 L153.03,179.88 L159.66,178.51 L166.29,177.14 L172.92,175.78 L179.55,174.43 L186.18,173.08 L192.81,171.74 L199.44,170.40 L206.07,169.07 L212.69,167.75 L219.32,166.43 L225.95,165.12 L232.58,163.82 L239.21,162.52 L245.84,161.23 L252.47,159.94 L259.10,158.67 L265.73,157.40 L272.36,156.14 L278.99,154.89 L285.62,153.64 L292.24,152.40 L298.87,151.17 L305.50,149.95 L312.13,148.74 L318.76,147.53 L325.39,146.34 L332.02,145.15 L338.65,143.97 L345.28,142.80 L351.91,141.64 L358.54,140.49 L365.16,139.35 L371.79,138.21 L378.42,137.09 L385.05,135.98 L391.68,134.87 L398.31,133.78 L404.94,132.70 L411.57,131.62 L418.20,130.56 L424.83,129.51 L431.46,128.47 L438.08,127.44 L444.71,126.42 L451.34,125.41 L457.97,124.41 L464.60,123.42 L471.23,122.45 L477.86,121.48 L484.49,120.53 L491.12,119.59 L497.75,118.66 L504.38,117.75 L511.01,116.85 L517.63,115.95 L524.26,115.08 L530.89,114.21 L537.52,113.36 L544.15,112.52 L550.78,111.69 L557.41,110.87 L564.04,110.07 L570.67,109.28 L577.30,108.51 L583.93,107.75 L590.55,107.00 L597.18,106.27 L603.81,105.55 L610.44,104.85 L617.07,104.16 L623.70,103.48" stroke="#000" stroke-width="3.6" stroke-dasharray="0 11.64" stroke-linecap="round" fill="none"/>
<rect x="50.65" y="36.9" width="622.35" height="196.95" fill="none" stroke="#111" stroke-width="1.5"/>
</g>
</svg>
</body></html>
